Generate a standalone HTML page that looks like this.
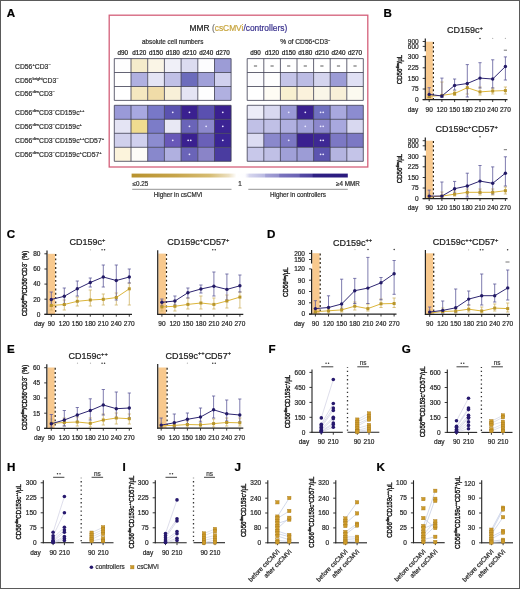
<!DOCTYPE html>
<html><head><meta charset="utf-8"><title>Figure</title>
<style>
html,body{margin:0;padding:0;background:#fff;}
body{width:520px;height:589px;overflow:hidden;}
svg{display:block;font-family:"Liberation Sans", sans-serif;will-change:transform;-webkit-font-smoothing:antialiased;}
</style></head>
<body>
<svg width="520" height="589" viewBox="0 0 520 589">
<rect x="0" y="0" width="520" height="589" fill="#fff"/>
<text x="6.70" y="16.80" font-size="11.6" text-anchor="start" fill="#000" stroke="#000" stroke-width="0.22" font-weight="bold">A</text>
<rect x="109.2" y="15.2" width="258.6" height="151.8" fill="none" stroke="#d4607a" stroke-width="1.3"/>
<text x="189.6" y="30.6" font-size="8.4" fill="#222" stroke="#222" stroke-width="0.22">MMR <tspan fill="#777" stroke="#777">(</tspan><tspan fill="#c8a640" stroke="#c8a640">csCMVi</tspan><tspan fill="#3d3590" stroke="#3d3590">/controllers)</tspan></text>
<text x="172.70" y="43.90" font-size="6.3" text-anchor="middle" fill="#333" stroke="#333" stroke-width="0.22" font-weight="normal">absolute cell numbers</text>
<text x="305.20" y="43.90" font-size="6.65" text-anchor="middle" fill="#333" stroke="#333" stroke-width="0.22"><tspan>% of CD56</tspan><tspan dy="-2.40" font-size="3.99">+</tspan><tspan dy="2.40">CD3</tspan><tspan dy="-2.40" font-size="3.99">−</tspan></text>
<text x="122.65" y="54.80" font-size="6.3" text-anchor="middle" fill="#222" stroke="#222" stroke-width="0.22" font-weight="normal">d90</text>
<text x="139.35" y="54.80" font-size="6.3" text-anchor="middle" fill="#222" stroke="#222" stroke-width="0.22" font-weight="normal">d120</text>
<text x="156.05" y="54.80" font-size="6.3" text-anchor="middle" fill="#222" stroke="#222" stroke-width="0.22" font-weight="normal">d150</text>
<text x="172.75" y="54.80" font-size="6.3" text-anchor="middle" fill="#222" stroke="#222" stroke-width="0.22" font-weight="normal">d180</text>
<text x="189.45" y="54.80" font-size="6.3" text-anchor="middle" fill="#222" stroke="#222" stroke-width="0.22" font-weight="normal">d210</text>
<text x="206.15" y="54.80" font-size="6.3" text-anchor="middle" fill="#222" stroke="#222" stroke-width="0.22" font-weight="normal">d240</text>
<text x="222.80" y="54.80" font-size="6.3" text-anchor="middle" fill="#222" stroke="#222" stroke-width="0.22" font-weight="normal">d270</text>
<text x="255.50" y="54.80" font-size="6.3" text-anchor="middle" fill="#222" stroke="#222" stroke-width="0.22" font-weight="normal">d90</text>
<text x="272.10" y="54.80" font-size="6.3" text-anchor="middle" fill="#222" stroke="#222" stroke-width="0.22" font-weight="normal">d120</text>
<text x="288.70" y="54.80" font-size="6.3" text-anchor="middle" fill="#222" stroke="#222" stroke-width="0.22" font-weight="normal">d150</text>
<text x="305.30" y="54.80" font-size="6.3" text-anchor="middle" fill="#222" stroke="#222" stroke-width="0.22" font-weight="normal">d180</text>
<text x="321.90" y="54.80" font-size="6.3" text-anchor="middle" fill="#222" stroke="#222" stroke-width="0.22" font-weight="normal">d210</text>
<text x="338.50" y="54.80" font-size="6.3" text-anchor="middle" fill="#222" stroke="#222" stroke-width="0.22" font-weight="normal">d240</text>
<text x="355.05" y="54.80" font-size="6.3" text-anchor="middle" fill="#222" stroke="#222" stroke-width="0.22" font-weight="normal">d270</text>
<rect x="114.30" y="58.60" width="16.70" height="13.90" fill="#fefefe" stroke="none" stroke-width="0"/>
<rect x="131.00" y="58.60" width="16.70" height="13.90" fill="#f5eccb" stroke="none" stroke-width="0"/>
<rect x="147.70" y="58.60" width="16.70" height="13.90" fill="#faf5e6" stroke="none" stroke-width="0"/>
<rect x="164.40" y="58.60" width="16.70" height="13.90" fill="#f0f0f8" stroke="none" stroke-width="0"/>
<rect x="181.10" y="58.60" width="16.70" height="13.90" fill="#dcdcf0" stroke="none" stroke-width="0"/>
<rect x="197.80" y="58.60" width="16.70" height="13.90" fill="#fcfcfe" stroke="none" stroke-width="0"/>
<rect x="214.50" y="58.60" width="16.60" height="13.90" fill="#9c9cd6" stroke="none" stroke-width="0"/>
<rect x="114.30" y="72.50" width="16.70" height="14.00" fill="#ffffff" stroke="none" stroke-width="0"/>
<rect x="131.00" y="72.50" width="16.70" height="14.00" fill="#b0b0e0" stroke="none" stroke-width="0"/>
<rect x="147.70" y="72.50" width="16.70" height="14.00" fill="#e4e4f4" stroke="none" stroke-width="0"/>
<rect x="164.40" y="72.50" width="16.70" height="14.00" fill="#c0c0e6" stroke="none" stroke-width="0"/>
<rect x="181.10" y="72.50" width="16.70" height="14.00" fill="#6c6cbc" stroke="none" stroke-width="0"/>
<rect x="197.80" y="72.50" width="16.70" height="14.00" fill="#a0a0d8" stroke="none" stroke-width="0"/>
<rect x="214.50" y="72.50" width="16.60" height="14.00" fill="#d0d0ee" stroke="none" stroke-width="0"/>
<rect x="114.30" y="86.50" width="16.70" height="13.90" fill="#ffffff" stroke="none" stroke-width="0"/>
<rect x="131.00" y="86.50" width="16.70" height="13.90" fill="#f5e8c0" stroke="none" stroke-width="0"/>
<rect x="147.70" y="86.50" width="16.70" height="13.90" fill="#f0dca8" stroke="none" stroke-width="0"/>
<rect x="164.40" y="86.50" width="16.70" height="13.90" fill="#f8f0d8" stroke="none" stroke-width="0"/>
<rect x="181.10" y="86.50" width="16.70" height="13.90" fill="#e4e4f4" stroke="none" stroke-width="0"/>
<rect x="197.80" y="86.50" width="16.70" height="13.90" fill="#fefefe" stroke="none" stroke-width="0"/>
<rect x="214.50" y="86.50" width="16.60" height="13.90" fill="#b0b0e0" stroke="none" stroke-width="0"/>
<line x1="114.30" y1="58.60" x2="114.30" y2="100.40" stroke="#3c3c50" stroke-width="0.8"/>
<line x1="131.00" y1="58.60" x2="131.00" y2="100.40" stroke="#3c3c50" stroke-width="0.8"/>
<line x1="147.70" y1="58.60" x2="147.70" y2="100.40" stroke="#3c3c50" stroke-width="0.8"/>
<line x1="164.40" y1="58.60" x2="164.40" y2="100.40" stroke="#3c3c50" stroke-width="0.8"/>
<line x1="181.10" y1="58.60" x2="181.10" y2="100.40" stroke="#3c3c50" stroke-width="0.8"/>
<line x1="197.80" y1="58.60" x2="197.80" y2="100.40" stroke="#3c3c50" stroke-width="0.8"/>
<line x1="214.50" y1="58.60" x2="214.50" y2="100.40" stroke="#3c3c50" stroke-width="0.8"/>
<line x1="231.10" y1="58.60" x2="231.10" y2="100.40" stroke="#3c3c50" stroke-width="0.8"/>
<line x1="114.30" y1="58.60" x2="231.10" y2="58.60" stroke="#3c3c50" stroke-width="0.8"/>
<line x1="114.30" y1="72.50" x2="231.10" y2="72.50" stroke="#3c3c50" stroke-width="0.8"/>
<line x1="114.30" y1="86.50" x2="231.10" y2="86.50" stroke="#3c3c50" stroke-width="0.8"/>
<line x1="114.30" y1="100.40" x2="231.10" y2="100.40" stroke="#3c3c50" stroke-width="0.8"/>
<rect x="114.30" y="105.30" width="16.70" height="14.00" fill="#9a9ad8" stroke="none" stroke-width="0"/>
<rect x="131.00" y="105.30" width="16.70" height="14.00" fill="#a8a8e0" stroke="none" stroke-width="0"/>
<rect x="147.70" y="105.30" width="16.70" height="14.00" fill="#7878c8" stroke="none" stroke-width="0"/>
<rect x="164.40" y="105.30" width="16.70" height="14.00" fill="#5a52b0" stroke="none" stroke-width="0"/>
<circle cx="172.75" cy="112.30" r="0.9" fill="#e8e6ff"/>
<rect x="181.10" y="105.30" width="16.70" height="14.00" fill="#3a2090" stroke="none" stroke-width="0"/>
<circle cx="189.45" cy="112.30" r="0.9" fill="#e8e6ff"/>
<rect x="197.80" y="105.30" width="16.70" height="14.00" fill="#5a50b0" stroke="none" stroke-width="0"/>
<rect x="214.50" y="105.30" width="16.60" height="14.00" fill="#3a2090" stroke="none" stroke-width="0"/>
<circle cx="222.80" cy="112.30" r="0.9" fill="#e8e6ff"/>
<rect x="114.30" y="119.30" width="16.70" height="14.00" fill="#e4e4f4" stroke="none" stroke-width="0"/>
<rect x="131.00" y="119.30" width="16.70" height="14.00" fill="#f0dc90" stroke="none" stroke-width="0"/>
<rect x="147.70" y="119.30" width="16.70" height="14.00" fill="#7c7cc8" stroke="none" stroke-width="0"/>
<rect x="164.40" y="119.30" width="16.70" height="14.00" fill="#e8e8f4" stroke="none" stroke-width="0"/>
<rect x="181.10" y="119.30" width="16.70" height="14.00" fill="#6a64b8" stroke="none" stroke-width="0"/>
<circle cx="189.45" cy="126.30" r="0.9" fill="#e8e6ff"/>
<rect x="197.80" y="119.30" width="16.70" height="14.00" fill="#8c88cc" stroke="none" stroke-width="0"/>
<circle cx="206.15" cy="126.30" r="0.9" fill="#e8e6ff"/>
<rect x="214.50" y="119.30" width="16.60" height="14.00" fill="#3c2494" stroke="none" stroke-width="0"/>
<circle cx="222.80" cy="126.30" r="0.9" fill="#e8e6ff"/>
<rect x="114.30" y="133.30" width="16.70" height="14.00" fill="#d0d0ec" stroke="none" stroke-width="0"/>
<rect x="131.00" y="133.30" width="16.70" height="14.00" fill="#d0d0ee" stroke="none" stroke-width="0"/>
<rect x="147.70" y="133.30" width="16.70" height="14.00" fill="#8c8cd0" stroke="none" stroke-width="0"/>
<rect x="164.40" y="133.30" width="16.70" height="14.00" fill="#6858b8" stroke="none" stroke-width="0"/>
<circle cx="172.75" cy="140.30" r="0.9" fill="#e8e6ff"/>
<rect x="181.10" y="133.30" width="16.70" height="14.00" fill="#3a2090" stroke="none" stroke-width="0"/>
<circle cx="188.15" cy="140.30" r="0.9" fill="#e8e6ff"/>
<circle cx="190.75" cy="140.30" r="0.9" fill="#e8e6ff"/>
<rect x="197.80" y="133.30" width="16.70" height="14.00" fill="#6a60b8" stroke="none" stroke-width="0"/>
<rect x="214.50" y="133.30" width="16.60" height="14.00" fill="#3a2494" stroke="none" stroke-width="0"/>
<circle cx="222.80" cy="140.30" r="0.9" fill="#e8e6ff"/>
<rect x="114.30" y="147.30" width="16.70" height="14.00" fill="#fcf4dc" stroke="none" stroke-width="0"/>
<rect x="131.00" y="147.30" width="16.70" height="14.00" fill="#fdfcf8" stroke="none" stroke-width="0"/>
<rect x="147.70" y="147.30" width="16.70" height="14.00" fill="#8888cc" stroke="none" stroke-width="0"/>
<rect x="164.40" y="147.30" width="16.70" height="14.00" fill="#b0b0e0" stroke="none" stroke-width="0"/>
<rect x="181.10" y="147.30" width="16.70" height="14.00" fill="#6a64b8" stroke="none" stroke-width="0"/>
<circle cx="189.45" cy="154.30" r="0.9" fill="#e8e6ff"/>
<rect x="197.80" y="147.30" width="16.70" height="14.00" fill="#8a84c8" stroke="none" stroke-width="0"/>
<rect x="214.50" y="147.30" width="16.60" height="14.00" fill="#4a3ca0" stroke="none" stroke-width="0"/>
<line x1="114.30" y1="105.30" x2="114.30" y2="161.30" stroke="#3c3c50" stroke-width="0.8"/>
<line x1="131.00" y1="105.30" x2="131.00" y2="161.30" stroke="#3c3c50" stroke-width="0.8"/>
<line x1="147.70" y1="105.30" x2="147.70" y2="161.30" stroke="#3c3c50" stroke-width="0.8"/>
<line x1="164.40" y1="105.30" x2="164.40" y2="161.30" stroke="#3c3c50" stroke-width="0.8"/>
<line x1="181.10" y1="105.30" x2="181.10" y2="161.30" stroke="#3c3c50" stroke-width="0.8"/>
<line x1="197.80" y1="105.30" x2="197.80" y2="161.30" stroke="#3c3c50" stroke-width="0.8"/>
<line x1="214.50" y1="105.30" x2="214.50" y2="161.30" stroke="#3c3c50" stroke-width="0.8"/>
<line x1="231.10" y1="105.30" x2="231.10" y2="161.30" stroke="#3c3c50" stroke-width="0.8"/>
<line x1="114.30" y1="105.30" x2="231.10" y2="105.30" stroke="#3c3c50" stroke-width="0.8"/>
<line x1="114.30" y1="119.30" x2="231.10" y2="119.30" stroke="#3c3c50" stroke-width="0.8"/>
<line x1="114.30" y1="133.30" x2="231.10" y2="133.30" stroke="#3c3c50" stroke-width="0.8"/>
<line x1="114.30" y1="147.30" x2="231.10" y2="147.30" stroke="#3c3c50" stroke-width="0.8"/>
<line x1="114.30" y1="161.30" x2="231.10" y2="161.30" stroke="#3c3c50" stroke-width="0.8"/>
<rect x="247.20" y="58.60" width="16.60" height="13.90" fill="#ffffff" stroke="none" stroke-width="0"/>
<rect x="263.80" y="58.60" width="16.60" height="13.90" fill="#ffffff" stroke="none" stroke-width="0"/>
<rect x="280.40" y="58.60" width="16.60" height="13.90" fill="#ffffff" stroke="none" stroke-width="0"/>
<rect x="297.00" y="58.60" width="16.60" height="13.90" fill="#ffffff" stroke="none" stroke-width="0"/>
<rect x="313.60" y="58.60" width="16.60" height="13.90" fill="#ffffff" stroke="none" stroke-width="0"/>
<rect x="330.20" y="58.60" width="16.60" height="13.90" fill="#ffffff" stroke="none" stroke-width="0"/>
<rect x="346.80" y="58.60" width="16.50" height="13.90" fill="#ffffff" stroke="none" stroke-width="0"/>
<rect x="247.20" y="72.50" width="16.60" height="14.00" fill="#fcfcfe" stroke="none" stroke-width="0"/>
<rect x="263.80" y="72.50" width="16.60" height="14.00" fill="#fefefe" stroke="none" stroke-width="0"/>
<rect x="280.40" y="72.50" width="16.60" height="14.00" fill="#c4c4e8" stroke="none" stroke-width="0"/>
<rect x="297.00" y="72.50" width="16.60" height="14.00" fill="#bcbce4" stroke="none" stroke-width="0"/>
<rect x="313.60" y="72.50" width="16.60" height="14.00" fill="#d4d4ee" stroke="none" stroke-width="0"/>
<rect x="330.20" y="72.50" width="16.60" height="14.00" fill="#9c9cd6" stroke="none" stroke-width="0"/>
<rect x="346.80" y="72.50" width="16.50" height="14.00" fill="#e0e0f4" stroke="none" stroke-width="0"/>
<rect x="247.20" y="86.50" width="16.60" height="13.90" fill="#ffffff" stroke="none" stroke-width="0"/>
<rect x="263.80" y="86.50" width="16.60" height="13.90" fill="#fefcf4" stroke="none" stroke-width="0"/>
<rect x="280.40" y="86.50" width="16.60" height="13.90" fill="#f8f0d0" stroke="none" stroke-width="0"/>
<rect x="297.00" y="86.50" width="16.60" height="13.90" fill="#fbf2dc" stroke="none" stroke-width="0"/>
<rect x="313.60" y="86.50" width="16.60" height="13.90" fill="#faf6e8" stroke="none" stroke-width="0"/>
<rect x="330.20" y="86.50" width="16.60" height="13.90" fill="#f8f0d8" stroke="none" stroke-width="0"/>
<rect x="346.80" y="86.50" width="16.50" height="13.90" fill="#fcfaf0" stroke="none" stroke-width="0"/>
<line x1="247.20" y1="58.60" x2="247.20" y2="100.40" stroke="#3c3c50" stroke-width="0.8"/>
<line x1="263.80" y1="58.60" x2="263.80" y2="100.40" stroke="#3c3c50" stroke-width="0.8"/>
<line x1="280.40" y1="58.60" x2="280.40" y2="100.40" stroke="#3c3c50" stroke-width="0.8"/>
<line x1="297.00" y1="58.60" x2="297.00" y2="100.40" stroke="#3c3c50" stroke-width="0.8"/>
<line x1="313.60" y1="58.60" x2="313.60" y2="100.40" stroke="#3c3c50" stroke-width="0.8"/>
<line x1="330.20" y1="58.60" x2="330.20" y2="100.40" stroke="#3c3c50" stroke-width="0.8"/>
<line x1="346.80" y1="58.60" x2="346.80" y2="100.40" stroke="#3c3c50" stroke-width="0.8"/>
<line x1="363.30" y1="58.60" x2="363.30" y2="100.40" stroke="#3c3c50" stroke-width="0.8"/>
<line x1="247.20" y1="58.60" x2="363.30" y2="58.60" stroke="#3c3c50" stroke-width="0.8"/>
<line x1="247.20" y1="72.50" x2="363.30" y2="72.50" stroke="#3c3c50" stroke-width="0.8"/>
<line x1="247.20" y1="86.50" x2="363.30" y2="86.50" stroke="#3c3c50" stroke-width="0.8"/>
<line x1="247.20" y1="100.40" x2="363.30" y2="100.40" stroke="#3c3c50" stroke-width="0.8"/>
<line x1="253.90" y1="66.00" x2="257.10" y2="66.00" stroke="#333" stroke-width="0.8"/>
<line x1="270.50" y1="66.00" x2="273.70" y2="66.00" stroke="#333" stroke-width="0.8"/>
<line x1="287.10" y1="66.00" x2="290.30" y2="66.00" stroke="#333" stroke-width="0.8"/>
<line x1="303.70" y1="66.00" x2="306.90" y2="66.00" stroke="#333" stroke-width="0.8"/>
<line x1="320.30" y1="66.00" x2="323.50" y2="66.00" stroke="#333" stroke-width="0.8"/>
<line x1="336.90" y1="66.00" x2="340.10" y2="66.00" stroke="#333" stroke-width="0.8"/>
<line x1="353.45" y1="66.00" x2="356.65" y2="66.00" stroke="#333" stroke-width="0.8"/>
<rect x="247.20" y="105.30" width="16.60" height="14.00" fill="#ececf8" stroke="none" stroke-width="0"/>
<rect x="263.80" y="105.30" width="16.60" height="14.00" fill="#d8d8f0" stroke="none" stroke-width="0"/>
<rect x="280.40" y="105.30" width="16.60" height="14.00" fill="#9a9ad6" stroke="none" stroke-width="0"/>
<circle cx="288.70" cy="112.30" r="0.9" fill="#e8e6ff"/>
<rect x="297.00" y="105.30" width="16.60" height="14.00" fill="#3a2090" stroke="none" stroke-width="0"/>
<circle cx="305.30" cy="112.30" r="0.9" fill="#e8e6ff"/>
<rect x="313.60" y="105.30" width="16.60" height="14.00" fill="#7070c0" stroke="none" stroke-width="0"/>
<circle cx="320.60" cy="112.30" r="0.9" fill="#e8e6ff"/>
<circle cx="323.20" cy="112.30" r="0.9" fill="#e8e6ff"/>
<rect x="330.20" y="105.30" width="16.60" height="14.00" fill="#a8a8de" stroke="none" stroke-width="0"/>
<rect x="346.80" y="105.30" width="16.50" height="14.00" fill="#8c8cd0" stroke="none" stroke-width="0"/>
<rect x="247.20" y="119.30" width="16.60" height="14.00" fill="#c0c0e6" stroke="none" stroke-width="0"/>
<rect x="263.80" y="119.30" width="16.60" height="14.00" fill="#c0c0e6" stroke="none" stroke-width="0"/>
<rect x="280.40" y="119.30" width="16.60" height="14.00" fill="#b0b0e0" stroke="none" stroke-width="0"/>
<rect x="297.00" y="119.30" width="16.60" height="14.00" fill="#a0a0d8" stroke="none" stroke-width="0"/>
<circle cx="305.30" cy="126.30" r="0.9" fill="#e8e6ff"/>
<rect x="313.60" y="119.30" width="16.60" height="14.00" fill="#8c88cc" stroke="none" stroke-width="0"/>
<circle cx="320.60" cy="126.30" r="0.9" fill="#e8e6ff"/>
<circle cx="323.20" cy="126.30" r="0.9" fill="#e8e6ff"/>
<rect x="330.20" y="119.30" width="16.60" height="14.00" fill="#a8a8de" stroke="none" stroke-width="0"/>
<rect x="346.80" y="119.30" width="16.50" height="14.00" fill="#d8d8f0" stroke="none" stroke-width="0"/>
<rect x="247.20" y="133.30" width="16.60" height="14.00" fill="#dcdcf2" stroke="none" stroke-width="0"/>
<rect x="263.80" y="133.30" width="16.60" height="14.00" fill="#8a88cc" stroke="none" stroke-width="0"/>
<rect x="280.40" y="133.30" width="16.60" height="14.00" fill="#7c78c4" stroke="none" stroke-width="0"/>
<circle cx="288.70" cy="140.30" r="0.9" fill="#e8e6ff"/>
<rect x="297.00" y="133.30" width="16.60" height="14.00" fill="#3a2090" stroke="none" stroke-width="0"/>
<rect x="313.60" y="133.30" width="16.60" height="14.00" fill="#3e2894" stroke="none" stroke-width="0"/>
<circle cx="320.60" cy="140.30" r="0.9" fill="#e8e6ff"/>
<circle cx="323.20" cy="140.30" r="0.9" fill="#e8e6ff"/>
<rect x="330.20" y="133.30" width="16.60" height="14.00" fill="#7c78c4" stroke="none" stroke-width="0"/>
<rect x="346.80" y="133.30" width="16.50" height="14.00" fill="#7c78c4" stroke="none" stroke-width="0"/>
<rect x="247.20" y="147.30" width="16.60" height="14.00" fill="#c8c8ea" stroke="none" stroke-width="0"/>
<rect x="263.80" y="147.30" width="16.60" height="14.00" fill="#c0c0e6" stroke="none" stroke-width="0"/>
<rect x="280.40" y="147.30" width="16.60" height="14.00" fill="#a0a0d8" stroke="none" stroke-width="0"/>
<rect x="297.00" y="147.30" width="16.60" height="14.00" fill="#9c9cd6" stroke="none" stroke-width="0"/>
<rect x="313.60" y="147.30" width="16.60" height="14.00" fill="#5c54b0" stroke="none" stroke-width="0"/>
<circle cx="320.60" cy="154.30" r="0.9" fill="#e8e6ff"/>
<circle cx="323.20" cy="154.30" r="0.9" fill="#e8e6ff"/>
<rect x="330.20" y="147.30" width="16.60" height="14.00" fill="#b4b4e0" stroke="none" stroke-width="0"/>
<rect x="346.80" y="147.30" width="16.50" height="14.00" fill="#c4c4e8" stroke="none" stroke-width="0"/>
<line x1="247.20" y1="105.30" x2="247.20" y2="161.30" stroke="#3c3c50" stroke-width="0.8"/>
<line x1="263.80" y1="105.30" x2="263.80" y2="161.30" stroke="#3c3c50" stroke-width="0.8"/>
<line x1="280.40" y1="105.30" x2="280.40" y2="161.30" stroke="#3c3c50" stroke-width="0.8"/>
<line x1="297.00" y1="105.30" x2="297.00" y2="161.30" stroke="#3c3c50" stroke-width="0.8"/>
<line x1="313.60" y1="105.30" x2="313.60" y2="161.30" stroke="#3c3c50" stroke-width="0.8"/>
<line x1="330.20" y1="105.30" x2="330.20" y2="161.30" stroke="#3c3c50" stroke-width="0.8"/>
<line x1="346.80" y1="105.30" x2="346.80" y2="161.30" stroke="#3c3c50" stroke-width="0.8"/>
<line x1="363.30" y1="105.30" x2="363.30" y2="161.30" stroke="#3c3c50" stroke-width="0.8"/>
<line x1="247.20" y1="105.30" x2="363.30" y2="105.30" stroke="#3c3c50" stroke-width="0.8"/>
<line x1="247.20" y1="119.30" x2="363.30" y2="119.30" stroke="#3c3c50" stroke-width="0.8"/>
<line x1="247.20" y1="133.30" x2="363.30" y2="133.30" stroke="#3c3c50" stroke-width="0.8"/>
<line x1="247.20" y1="147.30" x2="363.30" y2="147.30" stroke="#3c3c50" stroke-width="0.8"/>
<line x1="247.20" y1="161.30" x2="363.30" y2="161.30" stroke="#3c3c50" stroke-width="0.8"/>
<text x="15.00" y="68.60" font-size="6.8" text-anchor="start" fill="#333" stroke="#333" stroke-width="0.22"><tspan>CD56</tspan><tspan dy="-3.00" font-size="4.08">+</tspan><tspan dy="3.00">CD3</tspan><tspan dy="-3.00" font-size="4.08">−</tspan></text>
<text x="15.00" y="82.50" font-size="6.8" text-anchor="start" fill="#333" stroke="#333" stroke-width="0.22"><tspan>CD56</tspan><tspan dy="-3.00" font-size="4.08">bright</tspan><tspan dy="3.00">CD3</tspan><tspan dy="-3.00" font-size="4.08">−</tspan></text>
<text x="15.00" y="96.40" font-size="6.8" text-anchor="start" fill="#333" stroke="#333" stroke-width="0.22"><tspan>CD56</tspan><tspan dy="-3.00" font-size="4.08">dim</tspan><tspan dy="3.00">CD3</tspan><tspan dy="-3.00" font-size="4.08">−</tspan></text>
<text x="15.00" y="115.30" font-size="6.8" text-anchor="start" fill="#333" stroke="#333" stroke-width="0.22"><tspan>CD56</tspan><tspan dy="-3.00" font-size="4.08">dim</tspan><tspan dy="3.00">CD3</tspan><tspan dy="-3.00" font-size="4.08">−</tspan><tspan dy="3.00">CD159c</tspan><tspan dy="-3.00" font-size="4.08">++</tspan></text>
<text x="15.00" y="129.00" font-size="6.8" text-anchor="start" fill="#333" stroke="#333" stroke-width="0.22"><tspan>CD56</tspan><tspan dy="-3.00" font-size="4.08">dim</tspan><tspan dy="3.00">CD3</tspan><tspan dy="-3.00" font-size="4.08">−</tspan><tspan dy="3.00">CD159c</tspan><tspan dy="-3.00" font-size="4.08">+</tspan></text>
<text x="15.00" y="142.90" font-size="6.8" text-anchor="start" fill="#333" stroke="#333" stroke-width="0.22"><tspan>CD56</tspan><tspan dy="-3.00" font-size="4.08">dim</tspan><tspan dy="3.00">CD3</tspan><tspan dy="-3.00" font-size="4.08">−</tspan><tspan dy="3.00">CD159c</tspan><tspan dy="-3.00" font-size="4.08">++</tspan><tspan dy="3.00">CD57</tspan><tspan dy="-3.00" font-size="4.08">+</tspan></text>
<text x="15.00" y="156.80" font-size="6.8" text-anchor="start" fill="#333" stroke="#333" stroke-width="0.22"><tspan>CD56</tspan><tspan dy="-3.00" font-size="4.08">dim</tspan><tspan dy="3.00">CD3</tspan><tspan dy="-3.00" font-size="4.08">−</tspan><tspan dy="3.00">CD159c</tspan><tspan dy="-3.00" font-size="4.08">+</tspan><tspan dy="3.00">CD57</tspan><tspan dy="-3.00" font-size="4.08">+</tspan></text>
<defs><linearGradient id="cb" x1="0" x2="1" y1="0" y2="0"><stop offset="0" stop-color="#b8922e"/><stop offset="0.2" stop-color="#c6a44a"/><stop offset="0.36" stop-color="#d6bc72"/><stop offset="0.45" stop-color="#ece0c2"/><stop offset="0.485" stop-color="#ffffff"/><stop offset="0.525" stop-color="#fdfdff"/><stop offset="0.545" stop-color="#d6d6ee"/><stop offset="0.615" stop-color="#babae2"/><stop offset="0.62" stop-color="#a4a2d6"/><stop offset="0.68" stop-color="#9490cc"/><stop offset="0.685" stop-color="#7a74be"/><stop offset="0.775" stop-color="#6a62b4"/><stop offset="0.78" stop-color="#544aa4"/><stop offset="0.835" stop-color="#4a3e9c"/><stop offset="0.84" stop-color="#2e2084"/><stop offset="1" stop-color="#2a1a7e"/></linearGradient></defs>
<rect x="131.60" y="173.60" width="216.20" height="3.90" fill="url(#cb)" stroke="none" stroke-width="0"/>
<text x="132.60" y="186.00" font-size="6.3" text-anchor="start" fill="#333" stroke="#333" stroke-width="0.22" font-weight="normal">≤0.25</text>
<text x="240.00" y="186.00" font-size="6.3" text-anchor="middle" fill="#333" stroke="#333" stroke-width="0.22" font-weight="normal">1</text>
<text x="359.80" y="186.00" font-size="6.3" text-anchor="end" fill="#333" stroke="#333" stroke-width="0.22" font-weight="normal">≥4 MMR</text>
<line x1="132.20" y1="189.30" x2="231.50" y2="189.30" stroke="#777" stroke-width="0.8"/>
<line x1="248.30" y1="189.30" x2="347.80" y2="189.30" stroke="#777" stroke-width="0.8"/>
<text x="178.00" y="197.20" font-size="6.3" text-anchor="middle" fill="#333" stroke="#333" stroke-width="0.22" font-weight="normal">Higher in csCMVi</text>
<text x="298.00" y="197.20" font-size="6.3" text-anchor="middle" fill="#333" stroke="#333" stroke-width="0.22" font-weight="normal">Higher in controllers</text>
<text x="383.60" y="16.80" font-size="11.6" text-anchor="start" fill="#000" stroke="#000" stroke-width="0.22" font-weight="bold">B</text>
<rect x="425.90" y="41.70" width="6.90" height="57.90" fill="#f8c98e" stroke="none" stroke-width="0"/>
<line x1="433.40" y1="42.00" x2="433.40" y2="99.60" stroke="#2a2010" stroke-width="1.2" stroke-dasharray="1.9 2.4"/>
<line x1="429.20" y1="98.00" x2="429.20" y2="92.00" stroke="#cfb466" stroke-width="0.8"/>
<line x1="427.60" y1="92.00" x2="430.80" y2="92.00" stroke="#cfb466" stroke-width="0.8"/>
<line x1="427.60" y1="98.00" x2="430.80" y2="98.00" stroke="#cfb466" stroke-width="0.8"/>
<line x1="441.90" y1="97.00" x2="441.90" y2="82.00" stroke="#cfb466" stroke-width="0.8"/>
<line x1="440.30" y1="82.00" x2="443.50" y2="82.00" stroke="#cfb466" stroke-width="0.8"/>
<line x1="440.30" y1="97.00" x2="443.50" y2="97.00" stroke="#cfb466" stroke-width="0.8"/>
<line x1="454.60" y1="95.50" x2="454.60" y2="91.00" stroke="#cfb466" stroke-width="0.8"/>
<line x1="453.00" y1="91.00" x2="456.20" y2="91.00" stroke="#cfb466" stroke-width="0.8"/>
<line x1="453.00" y1="95.50" x2="456.20" y2="95.50" stroke="#cfb466" stroke-width="0.8"/>
<line x1="467.30" y1="94.00" x2="467.30" y2="84.00" stroke="#cfb466" stroke-width="0.8"/>
<line x1="465.70" y1="84.00" x2="468.90" y2="84.00" stroke="#cfb466" stroke-width="0.8"/>
<line x1="465.70" y1="94.00" x2="468.90" y2="94.00" stroke="#cfb466" stroke-width="0.8"/>
<line x1="480.00" y1="95.00" x2="480.00" y2="87.00" stroke="#cfb466" stroke-width="0.8"/>
<line x1="478.40" y1="87.00" x2="481.60" y2="87.00" stroke="#cfb466" stroke-width="0.8"/>
<line x1="478.40" y1="95.00" x2="481.60" y2="95.00" stroke="#cfb466" stroke-width="0.8"/>
<line x1="492.70" y1="94.00" x2="492.70" y2="88.00" stroke="#cfb466" stroke-width="0.8"/>
<line x1="491.10" y1="88.00" x2="494.30" y2="88.00" stroke="#cfb466" stroke-width="0.8"/>
<line x1="491.10" y1="94.00" x2="494.30" y2="94.00" stroke="#cfb466" stroke-width="0.8"/>
<line x1="505.40" y1="94.00" x2="505.40" y2="87.00" stroke="#cfb466" stroke-width="0.8"/>
<line x1="503.80" y1="87.00" x2="507.00" y2="87.00" stroke="#cfb466" stroke-width="0.8"/>
<line x1="503.80" y1="94.00" x2="507.00" y2="94.00" stroke="#cfb466" stroke-width="0.8"/>
<line x1="429.20" y1="97.50" x2="429.20" y2="87.70" stroke="#5e5a9a" stroke-width="0.8"/>
<line x1="427.60" y1="87.70" x2="430.80" y2="87.70" stroke="#5e5a9a" stroke-width="0.8"/>
<line x1="427.60" y1="97.50" x2="430.80" y2="97.50" stroke="#5e5a9a" stroke-width="0.8"/>
<line x1="441.90" y1="97.50" x2="441.90" y2="78.10" stroke="#5e5a9a" stroke-width="0.8"/>
<line x1="440.30" y1="78.10" x2="443.50" y2="78.10" stroke="#5e5a9a" stroke-width="0.8"/>
<line x1="440.30" y1="97.50" x2="443.50" y2="97.50" stroke="#5e5a9a" stroke-width="0.8"/>
<line x1="454.60" y1="90.00" x2="454.60" y2="79.00" stroke="#5e5a9a" stroke-width="0.8"/>
<line x1="453.00" y1="79.00" x2="456.20" y2="79.00" stroke="#5e5a9a" stroke-width="0.8"/>
<line x1="453.00" y1="90.00" x2="456.20" y2="90.00" stroke="#5e5a9a" stroke-width="0.8"/>
<line x1="467.30" y1="97.00" x2="467.30" y2="64.60" stroke="#5e5a9a" stroke-width="0.8"/>
<line x1="465.70" y1="64.60" x2="468.90" y2="64.60" stroke="#5e5a9a" stroke-width="0.8"/>
<line x1="465.70" y1="97.00" x2="468.90" y2="97.00" stroke="#5e5a9a" stroke-width="0.8"/>
<line x1="480.00" y1="88.00" x2="480.00" y2="62.70" stroke="#5e5a9a" stroke-width="0.8"/>
<line x1="478.40" y1="62.70" x2="481.60" y2="62.70" stroke="#5e5a9a" stroke-width="0.8"/>
<line x1="478.40" y1="88.00" x2="481.60" y2="88.00" stroke="#5e5a9a" stroke-width="0.8"/>
<line x1="492.70" y1="88.00" x2="492.70" y2="59.80" stroke="#5e5a9a" stroke-width="0.8"/>
<line x1="491.10" y1="59.80" x2="494.30" y2="59.80" stroke="#5e5a9a" stroke-width="0.8"/>
<line x1="491.10" y1="88.00" x2="494.30" y2="88.00" stroke="#5e5a9a" stroke-width="0.8"/>
<line x1="505.40" y1="80.00" x2="505.40" y2="56.90" stroke="#5e5a9a" stroke-width="0.8"/>
<line x1="503.80" y1="56.90" x2="507.00" y2="56.90" stroke="#5e5a9a" stroke-width="0.8"/>
<line x1="503.80" y1="80.00" x2="507.00" y2="80.00" stroke="#5e5a9a" stroke-width="0.8"/>
<polyline fill="none" stroke="#dcb53a" stroke-width="1" points="429.20,96.30 441.90,95.40 454.60,93.50 467.30,87.70 480.00,91.90 492.70,91.00 505.40,90.60"/>
<rect x="427.70" y="94.80" width="3.00" height="3.00" fill="#b8962c" stroke="none" stroke-width="0"/>
<rect x="440.40" y="93.90" width="3.00" height="3.00" fill="#b8962c" stroke="none" stroke-width="0"/>
<rect x="453.10" y="92.00" width="3.00" height="3.00" fill="#b8962c" stroke="none" stroke-width="0"/>
<rect x="465.80" y="86.20" width="3.00" height="3.00" fill="#b8962c" stroke="none" stroke-width="0"/>
<rect x="478.50" y="90.40" width="3.00" height="3.00" fill="#b8962c" stroke="none" stroke-width="0"/>
<rect x="491.20" y="89.50" width="3.00" height="3.00" fill="#b8962c" stroke="none" stroke-width="0"/>
<rect x="503.90" y="89.10" width="3.00" height="3.00" fill="#b8962c" stroke="none" stroke-width="0"/>
<polyline fill="none" stroke="#2e2672" stroke-width="1" points="429.20,94.40 441.90,96.00 454.60,85.40 467.30,83.50 480.00,78.10 492.70,79.00 505.40,66.50"/>
<circle cx="429.20" cy="94.40" r="1.7" fill="#231a66"/>
<circle cx="441.90" cy="96.00" r="1.7" fill="#231a66"/>
<circle cx="454.60" cy="85.40" r="1.7" fill="#231a66"/>
<circle cx="467.30" cy="83.50" r="1.7" fill="#231a66"/>
<circle cx="480.00" cy="78.10" r="1.7" fill="#231a66"/>
<circle cx="492.70" cy="79.00" r="1.7" fill="#231a66"/>
<circle cx="505.40" cy="66.50" r="1.7" fill="#231a66"/>
<line x1="425.30" y1="99.60" x2="425.30" y2="55.80" stroke="#222" stroke-width="1.2"/>
<line x1="425.30" y1="51.20" x2="425.30" y2="38.50" stroke="#222" stroke-width="1.2"/>
<line x1="422.70" y1="99.60" x2="507.50" y2="99.60" stroke="#222" stroke-width="1.2"/>
<line x1="422.70" y1="99.60" x2="425.30" y2="99.60" stroke="#222" stroke-width="0.9"/>
<text x="418.70" y="101.90" font-size="6.5" text-anchor="end" fill="#2a2a2a" stroke="#2a2a2a" stroke-width="0.22" font-weight="normal">0</text>
<line x1="422.70" y1="89.00" x2="425.30" y2="89.00" stroke="#222" stroke-width="0.9"/>
<text x="418.70" y="91.30" font-size="6.5" text-anchor="end" fill="#2a2a2a" stroke="#2a2a2a" stroke-width="0.22" font-weight="normal">75</text>
<line x1="422.70" y1="78.40" x2="425.30" y2="78.40" stroke="#222" stroke-width="0.9"/>
<text x="418.70" y="80.70" font-size="6.5" text-anchor="end" fill="#2a2a2a" stroke="#2a2a2a" stroke-width="0.22" font-weight="normal">150</text>
<line x1="422.70" y1="67.80" x2="425.30" y2="67.80" stroke="#222" stroke-width="0.9"/>
<text x="418.70" y="70.10" font-size="6.5" text-anchor="end" fill="#2a2a2a" stroke="#2a2a2a" stroke-width="0.22" font-weight="normal">225</text>
<line x1="422.70" y1="56.60" x2="425.30" y2="56.60" stroke="#222" stroke-width="0.9"/>
<text x="418.70" y="58.90" font-size="6.5" text-anchor="end" fill="#2a2a2a" stroke="#2a2a2a" stroke-width="0.22" font-weight="normal">300</text>
<line x1="422.70" y1="46.40" x2="425.30" y2="46.40" stroke="#222" stroke-width="0.9"/>
<text x="418.70" y="48.70" font-size="6.5" text-anchor="end" fill="#2a2a2a" stroke="#2a2a2a" stroke-width="0.22" font-weight="normal">600</text>
<line x1="422.70" y1="41.50" x2="425.30" y2="41.50" stroke="#222" stroke-width="0.9"/>
<text x="418.70" y="43.80" font-size="6.5" text-anchor="end" fill="#2a2a2a" stroke="#2a2a2a" stroke-width="0.22" font-weight="normal">900</text>
<line x1="429.20" y1="99.60" x2="429.20" y2="102.00" stroke="#222" stroke-width="0.9"/>
<line x1="441.90" y1="99.60" x2="441.90" y2="102.00" stroke="#222" stroke-width="0.9"/>
<line x1="454.60" y1="99.60" x2="454.60" y2="102.00" stroke="#222" stroke-width="0.9"/>
<line x1="467.30" y1="99.60" x2="467.30" y2="102.00" stroke="#222" stroke-width="0.9"/>
<line x1="480.00" y1="99.60" x2="480.00" y2="102.00" stroke="#222" stroke-width="0.9"/>
<line x1="492.70" y1="99.60" x2="492.70" y2="102.00" stroke="#222" stroke-width="0.9"/>
<line x1="505.40" y1="99.60" x2="505.40" y2="102.00" stroke="#222" stroke-width="0.9"/>
<text x="429.20" y="112.20" font-size="6.5" text-anchor="middle" fill="#2a2a2a" stroke="#2a2a2a" stroke-width="0.22" font-weight="normal">90</text>
<text x="441.90" y="112.20" font-size="6.5" text-anchor="middle" fill="#2a2a2a" stroke="#2a2a2a" stroke-width="0.22" font-weight="normal">120</text>
<text x="454.60" y="112.20" font-size="6.5" text-anchor="middle" fill="#2a2a2a" stroke="#2a2a2a" stroke-width="0.22" font-weight="normal">150</text>
<text x="467.30" y="112.20" font-size="6.5" text-anchor="middle" fill="#2a2a2a" stroke="#2a2a2a" stroke-width="0.22" font-weight="normal">180</text>
<text x="480.00" y="112.20" font-size="6.5" text-anchor="middle" fill="#2a2a2a" stroke="#2a2a2a" stroke-width="0.22" font-weight="normal">210</text>
<text x="492.70" y="112.20" font-size="6.5" text-anchor="middle" fill="#2a2a2a" stroke="#2a2a2a" stroke-width="0.22" font-weight="normal">240</text>
<text x="505.40" y="112.20" font-size="6.5" text-anchor="middle" fill="#2a2a2a" stroke="#2a2a2a" stroke-width="0.22" font-weight="normal">270</text>
<text x="413.00" y="112.20" font-size="6.5" text-anchor="middle" fill="#2a2a2a" stroke="#2a2a2a" stroke-width="0.22" font-weight="normal">day</text>
<text x="465.00" y="33.20" font-size="9.0" text-anchor="middle" fill="#222" stroke="#222" stroke-width="0.22"><tspan>CD159c</tspan><tspan dy="-3.70" font-size="5.76">+</tspan></text>
<circle cx="480.00" cy="38.40" r="0.75" fill="#333"/>
<circle cx="492.70" cy="38.40" r="0.6" fill="#b0b0b0"/>
<circle cx="505.40" cy="38.40" r="0.6" fill="#b0b0b0"/>
<text x="0.00" y="0.00" font-size="7.0" text-anchor="middle" fill="#111" stroke="#111" stroke-width="0.34" transform="translate(401.50 69.50) rotate(-90) scale(0.87 1)"><tspan>CD56</tspan><tspan dy="-2.80" font-size="3.85">dim</tspan><tspan dy="2.80">/µL</tspan></text>
<line x1="503.80" y1="50.20" x2="507.00" y2="50.20" stroke="#666" stroke-width="0.9"/>
<rect x="425.90" y="140.70" width="6.90" height="57.90" fill="#f8c98e" stroke="none" stroke-width="0"/>
<line x1="433.40" y1="141.00" x2="433.40" y2="198.60" stroke="#2a2010" stroke-width="1.2" stroke-dasharray="1.9 2.4"/>
<line x1="429.20" y1="198.50" x2="429.20" y2="194.00" stroke="#cfb466" stroke-width="0.8"/>
<line x1="427.60" y1="194.00" x2="430.80" y2="194.00" stroke="#cfb466" stroke-width="0.8"/>
<line x1="427.60" y1="198.50" x2="430.80" y2="198.50" stroke="#cfb466" stroke-width="0.8"/>
<line x1="441.90" y1="198.00" x2="441.90" y2="192.00" stroke="#cfb466" stroke-width="0.8"/>
<line x1="440.30" y1="192.00" x2="443.50" y2="192.00" stroke="#cfb466" stroke-width="0.8"/>
<line x1="440.30" y1="198.00" x2="443.50" y2="198.00" stroke="#cfb466" stroke-width="0.8"/>
<line x1="454.60" y1="196.00" x2="454.60" y2="191.00" stroke="#cfb466" stroke-width="0.8"/>
<line x1="453.00" y1="191.00" x2="456.20" y2="191.00" stroke="#cfb466" stroke-width="0.8"/>
<line x1="453.00" y1="196.00" x2="456.20" y2="196.00" stroke="#cfb466" stroke-width="0.8"/>
<line x1="467.30" y1="195.00" x2="467.30" y2="189.00" stroke="#cfb466" stroke-width="0.8"/>
<line x1="465.70" y1="189.00" x2="468.90" y2="189.00" stroke="#cfb466" stroke-width="0.8"/>
<line x1="465.70" y1="195.00" x2="468.90" y2="195.00" stroke="#cfb466" stroke-width="0.8"/>
<line x1="480.00" y1="195.00" x2="480.00" y2="189.00" stroke="#cfb466" stroke-width="0.8"/>
<line x1="478.40" y1="189.00" x2="481.60" y2="189.00" stroke="#cfb466" stroke-width="0.8"/>
<line x1="478.40" y1="195.00" x2="481.60" y2="195.00" stroke="#cfb466" stroke-width="0.8"/>
<line x1="492.70" y1="195.00" x2="492.70" y2="189.00" stroke="#cfb466" stroke-width="0.8"/>
<line x1="491.10" y1="189.00" x2="494.30" y2="189.00" stroke="#cfb466" stroke-width="0.8"/>
<line x1="491.10" y1="195.00" x2="494.30" y2="195.00" stroke="#cfb466" stroke-width="0.8"/>
<line x1="505.40" y1="194.00" x2="505.40" y2="187.00" stroke="#cfb466" stroke-width="0.8"/>
<line x1="503.80" y1="187.00" x2="507.00" y2="187.00" stroke="#cfb466" stroke-width="0.8"/>
<line x1="503.80" y1="194.00" x2="507.00" y2="194.00" stroke="#cfb466" stroke-width="0.8"/>
<line x1="429.20" y1="198.50" x2="429.20" y2="190.10" stroke="#5e5a9a" stroke-width="0.8"/>
<line x1="427.60" y1="190.10" x2="430.80" y2="190.10" stroke="#5e5a9a" stroke-width="0.8"/>
<line x1="427.60" y1="198.50" x2="430.80" y2="198.50" stroke="#5e5a9a" stroke-width="0.8"/>
<line x1="441.90" y1="198.50" x2="441.90" y2="182.00" stroke="#5e5a9a" stroke-width="0.8"/>
<line x1="440.30" y1="182.00" x2="443.50" y2="182.00" stroke="#5e5a9a" stroke-width="0.8"/>
<line x1="440.30" y1="198.50" x2="443.50" y2="198.50" stroke="#5e5a9a" stroke-width="0.8"/>
<line x1="454.60" y1="193.00" x2="454.60" y2="181.40" stroke="#5e5a9a" stroke-width="0.8"/>
<line x1="453.00" y1="181.40" x2="456.20" y2="181.40" stroke="#5e5a9a" stroke-width="0.8"/>
<line x1="453.00" y1="193.00" x2="456.20" y2="193.00" stroke="#5e5a9a" stroke-width="0.8"/>
<line x1="467.30" y1="197.00" x2="467.30" y2="173.20" stroke="#5e5a9a" stroke-width="0.8"/>
<line x1="465.70" y1="173.20" x2="468.90" y2="173.20" stroke="#5e5a9a" stroke-width="0.8"/>
<line x1="465.70" y1="197.00" x2="468.90" y2="197.00" stroke="#5e5a9a" stroke-width="0.8"/>
<line x1="480.00" y1="193.00" x2="480.00" y2="165.50" stroke="#5e5a9a" stroke-width="0.8"/>
<line x1="478.40" y1="165.50" x2="481.60" y2="165.50" stroke="#5e5a9a" stroke-width="0.8"/>
<line x1="478.40" y1="193.00" x2="481.60" y2="193.00" stroke="#5e5a9a" stroke-width="0.8"/>
<line x1="492.70" y1="194.00" x2="492.70" y2="166.90" stroke="#5e5a9a" stroke-width="0.8"/>
<line x1="491.10" y1="166.90" x2="494.30" y2="166.90" stroke="#5e5a9a" stroke-width="0.8"/>
<line x1="491.10" y1="194.00" x2="494.30" y2="194.00" stroke="#5e5a9a" stroke-width="0.8"/>
<line x1="505.40" y1="186.00" x2="505.40" y2="156.80" stroke="#5e5a9a" stroke-width="0.8"/>
<line x1="503.80" y1="156.80" x2="507.00" y2="156.80" stroke="#5e5a9a" stroke-width="0.8"/>
<line x1="503.80" y1="186.00" x2="507.00" y2="186.00" stroke="#5e5a9a" stroke-width="0.8"/>
<polyline fill="none" stroke="#dcb53a" stroke-width="1" points="429.20,196.90 441.90,196.10 454.60,194.20 467.30,192.30 480.00,192.30 492.70,192.30 505.40,190.70"/>
<rect x="427.70" y="195.40" width="3.00" height="3.00" fill="#b8962c" stroke="none" stroke-width="0"/>
<rect x="440.40" y="194.60" width="3.00" height="3.00" fill="#b8962c" stroke="none" stroke-width="0"/>
<rect x="453.10" y="192.70" width="3.00" height="3.00" fill="#b8962c" stroke="none" stroke-width="0"/>
<rect x="465.80" y="190.80" width="3.00" height="3.00" fill="#b8962c" stroke="none" stroke-width="0"/>
<rect x="478.50" y="190.80" width="3.00" height="3.00" fill="#b8962c" stroke="none" stroke-width="0"/>
<rect x="491.20" y="190.80" width="3.00" height="3.00" fill="#b8962c" stroke="none" stroke-width="0"/>
<rect x="503.90" y="189.20" width="3.00" height="3.00" fill="#b8962c" stroke="none" stroke-width="0"/>
<polyline fill="none" stroke="#2e2672" stroke-width="1" points="429.20,196.10 441.90,196.10 454.60,188.70 467.30,186.00 480.00,181.10 492.70,183.30 505.40,173.20"/>
<circle cx="429.20" cy="196.10" r="1.7" fill="#231a66"/>
<circle cx="441.90" cy="196.10" r="1.7" fill="#231a66"/>
<circle cx="454.60" cy="188.70" r="1.7" fill="#231a66"/>
<circle cx="467.30" cy="186.00" r="1.7" fill="#231a66"/>
<circle cx="480.00" cy="181.10" r="1.7" fill="#231a66"/>
<circle cx="492.70" cy="183.30" r="1.7" fill="#231a66"/>
<circle cx="505.40" cy="173.20" r="1.7" fill="#231a66"/>
<line x1="425.30" y1="198.60" x2="425.30" y2="155.80" stroke="#222" stroke-width="1.2"/>
<line x1="425.30" y1="150.50" x2="425.30" y2="137.50" stroke="#222" stroke-width="1.2"/>
<line x1="422.70" y1="198.60" x2="507.50" y2="198.60" stroke="#222" stroke-width="1.2"/>
<line x1="422.70" y1="198.60" x2="425.30" y2="198.60" stroke="#222" stroke-width="0.9"/>
<text x="418.70" y="200.90" font-size="6.5" text-anchor="end" fill="#2a2a2a" stroke="#2a2a2a" stroke-width="0.22" font-weight="normal">0</text>
<line x1="422.70" y1="188.00" x2="425.30" y2="188.00" stroke="#222" stroke-width="0.9"/>
<text x="418.70" y="190.30" font-size="6.5" text-anchor="end" fill="#2a2a2a" stroke="#2a2a2a" stroke-width="0.22" font-weight="normal">75</text>
<line x1="422.70" y1="177.50" x2="425.30" y2="177.50" stroke="#222" stroke-width="0.9"/>
<text x="418.70" y="179.80" font-size="6.5" text-anchor="end" fill="#2a2a2a" stroke="#2a2a2a" stroke-width="0.22" font-weight="normal">150</text>
<line x1="422.70" y1="166.80" x2="425.30" y2="166.80" stroke="#222" stroke-width="0.9"/>
<text x="418.70" y="169.10" font-size="6.5" text-anchor="end" fill="#2a2a2a" stroke="#2a2a2a" stroke-width="0.22" font-weight="normal">225</text>
<line x1="422.70" y1="156.20" x2="425.30" y2="156.20" stroke="#222" stroke-width="0.9"/>
<text x="418.70" y="158.50" font-size="6.5" text-anchor="end" fill="#2a2a2a" stroke="#2a2a2a" stroke-width="0.22" font-weight="normal">300</text>
<line x1="422.70" y1="145.80" x2="425.30" y2="145.80" stroke="#222" stroke-width="0.9"/>
<text x="418.70" y="148.10" font-size="6.5" text-anchor="end" fill="#2a2a2a" stroke="#2a2a2a" stroke-width="0.22" font-weight="normal">600</text>
<line x1="422.70" y1="140.70" x2="425.30" y2="140.70" stroke="#222" stroke-width="0.9"/>
<text x="418.70" y="143.00" font-size="6.5" text-anchor="end" fill="#2a2a2a" stroke="#2a2a2a" stroke-width="0.22" font-weight="normal">900</text>
<line x1="429.20" y1="198.60" x2="429.20" y2="201.00" stroke="#222" stroke-width="0.9"/>
<line x1="441.90" y1="198.60" x2="441.90" y2="201.00" stroke="#222" stroke-width="0.9"/>
<line x1="454.60" y1="198.60" x2="454.60" y2="201.00" stroke="#222" stroke-width="0.9"/>
<line x1="467.30" y1="198.60" x2="467.30" y2="201.00" stroke="#222" stroke-width="0.9"/>
<line x1="480.00" y1="198.60" x2="480.00" y2="201.00" stroke="#222" stroke-width="0.9"/>
<line x1="492.70" y1="198.60" x2="492.70" y2="201.00" stroke="#222" stroke-width="0.9"/>
<line x1="505.40" y1="198.60" x2="505.40" y2="201.00" stroke="#222" stroke-width="0.9"/>
<text x="429.20" y="210.20" font-size="6.5" text-anchor="middle" fill="#2a2a2a" stroke="#2a2a2a" stroke-width="0.22" font-weight="normal">90</text>
<text x="441.90" y="210.20" font-size="6.5" text-anchor="middle" fill="#2a2a2a" stroke="#2a2a2a" stroke-width="0.22" font-weight="normal">120</text>
<text x="454.60" y="210.20" font-size="6.5" text-anchor="middle" fill="#2a2a2a" stroke="#2a2a2a" stroke-width="0.22" font-weight="normal">150</text>
<text x="467.30" y="210.20" font-size="6.5" text-anchor="middle" fill="#2a2a2a" stroke="#2a2a2a" stroke-width="0.22" font-weight="normal">180</text>
<text x="480.00" y="210.20" font-size="6.5" text-anchor="middle" fill="#2a2a2a" stroke="#2a2a2a" stroke-width="0.22" font-weight="normal">210</text>
<text x="492.70" y="210.20" font-size="6.5" text-anchor="middle" fill="#2a2a2a" stroke="#2a2a2a" stroke-width="0.22" font-weight="normal">240</text>
<text x="505.40" y="210.20" font-size="6.5" text-anchor="middle" fill="#2a2a2a" stroke="#2a2a2a" stroke-width="0.22" font-weight="normal">270</text>
<text x="413.00" y="210.20" font-size="6.5" text-anchor="middle" fill="#2a2a2a" stroke="#2a2a2a" stroke-width="0.22" font-weight="normal">day</text>
<text x="466.70" y="132.20" font-size="9.0" text-anchor="middle" fill="#222" stroke="#222" stroke-width="0.22"><tspan>CD159c</tspan><tspan dy="-3.70" font-size="5.76">+</tspan><tspan dy="3.70">CD57</tspan><tspan dy="-3.70" font-size="5.76">+</tspan></text>
<circle cx="480.00" cy="136.80" r="0.75" fill="#333"/>
<text x="0.00" y="0.00" font-size="7.0" text-anchor="middle" fill="#111" stroke="#111" stroke-width="0.34" transform="translate(401.50 168.50) rotate(-90) scale(0.87 1)"><tspan>CD56</tspan><tspan dy="-2.80" font-size="3.85">dim</tspan><tspan dy="2.80">/µL</tspan></text>
<line x1="503.80" y1="149.70" x2="507.00" y2="149.70" stroke="#666" stroke-width="0.9"/>
<text x="6.80" y="238.40" font-size="11.6" text-anchor="start" fill="#000" stroke="#000" stroke-width="0.22" font-weight="bold">C</text>
<rect x="47.60" y="253.80" width="7.50" height="60.50" fill="#f8c98e" stroke="none" stroke-width="0"/>
<line x1="55.70" y1="254.10" x2="55.70" y2="314.30" stroke="#2a2010" stroke-width="1.2" stroke-dasharray="1.9 2.4"/>
<line x1="51.30" y1="310.00" x2="51.30" y2="301.00" stroke="#cfb466" stroke-width="0.8"/>
<line x1="49.70" y1="301.00" x2="52.90" y2="301.00" stroke="#cfb466" stroke-width="0.8"/>
<line x1="49.70" y1="310.00" x2="52.90" y2="310.00" stroke="#cfb466" stroke-width="0.8"/>
<line x1="64.30" y1="310.00" x2="64.30" y2="300.00" stroke="#cfb466" stroke-width="0.8"/>
<line x1="62.70" y1="300.00" x2="65.90" y2="300.00" stroke="#cfb466" stroke-width="0.8"/>
<line x1="62.70" y1="310.00" x2="65.90" y2="310.00" stroke="#cfb466" stroke-width="0.8"/>
<line x1="77.30" y1="306.00" x2="77.30" y2="297.00" stroke="#cfb466" stroke-width="0.8"/>
<line x1="75.70" y1="297.00" x2="78.90" y2="297.00" stroke="#cfb466" stroke-width="0.8"/>
<line x1="75.70" y1="306.00" x2="78.90" y2="306.00" stroke="#cfb466" stroke-width="0.8"/>
<line x1="90.30" y1="306.00" x2="90.30" y2="290.00" stroke="#cfb466" stroke-width="0.8"/>
<line x1="88.70" y1="290.00" x2="91.90" y2="290.00" stroke="#cfb466" stroke-width="0.8"/>
<line x1="88.70" y1="306.00" x2="91.90" y2="306.00" stroke="#cfb466" stroke-width="0.8"/>
<line x1="103.30" y1="305.00" x2="103.30" y2="294.00" stroke="#cfb466" stroke-width="0.8"/>
<line x1="101.70" y1="294.00" x2="104.90" y2="294.00" stroke="#cfb466" stroke-width="0.8"/>
<line x1="101.70" y1="305.00" x2="104.90" y2="305.00" stroke="#cfb466" stroke-width="0.8"/>
<line x1="116.30" y1="305.00" x2="116.30" y2="293.00" stroke="#cfb466" stroke-width="0.8"/>
<line x1="114.70" y1="293.00" x2="117.90" y2="293.00" stroke="#cfb466" stroke-width="0.8"/>
<line x1="114.70" y1="305.00" x2="117.90" y2="305.00" stroke="#cfb466" stroke-width="0.8"/>
<line x1="129.30" y1="305.00" x2="129.30" y2="283.00" stroke="#cfb466" stroke-width="0.8"/>
<line x1="127.70" y1="283.00" x2="130.90" y2="283.00" stroke="#cfb466" stroke-width="0.8"/>
<line x1="127.70" y1="305.00" x2="130.90" y2="305.00" stroke="#cfb466" stroke-width="0.8"/>
<line x1="51.30" y1="306.00" x2="51.30" y2="292.00" stroke="#5e5a9a" stroke-width="0.8"/>
<line x1="49.70" y1="292.00" x2="52.90" y2="292.00" stroke="#5e5a9a" stroke-width="0.8"/>
<line x1="49.70" y1="306.00" x2="52.90" y2="306.00" stroke="#5e5a9a" stroke-width="0.8"/>
<line x1="64.30" y1="305.00" x2="64.30" y2="288.00" stroke="#5e5a9a" stroke-width="0.8"/>
<line x1="62.70" y1="288.00" x2="65.90" y2="288.00" stroke="#5e5a9a" stroke-width="0.8"/>
<line x1="62.70" y1="305.00" x2="65.90" y2="305.00" stroke="#5e5a9a" stroke-width="0.8"/>
<line x1="77.30" y1="296.00" x2="77.30" y2="281.00" stroke="#5e5a9a" stroke-width="0.8"/>
<line x1="75.70" y1="281.00" x2="78.90" y2="281.00" stroke="#5e5a9a" stroke-width="0.8"/>
<line x1="75.70" y1="296.00" x2="78.90" y2="296.00" stroke="#5e5a9a" stroke-width="0.8"/>
<line x1="90.30" y1="287.00" x2="90.30" y2="278.00" stroke="#5e5a9a" stroke-width="0.8"/>
<line x1="88.70" y1="278.00" x2="91.90" y2="278.00" stroke="#5e5a9a" stroke-width="0.8"/>
<line x1="88.70" y1="287.00" x2="91.90" y2="287.00" stroke="#5e5a9a" stroke-width="0.8"/>
<line x1="103.30" y1="287.00" x2="103.30" y2="265.00" stroke="#5e5a9a" stroke-width="0.8"/>
<line x1="101.70" y1="265.00" x2="104.90" y2="265.00" stroke="#5e5a9a" stroke-width="0.8"/>
<line x1="101.70" y1="287.00" x2="104.90" y2="287.00" stroke="#5e5a9a" stroke-width="0.8"/>
<line x1="116.30" y1="300.00" x2="116.30" y2="265.00" stroke="#5e5a9a" stroke-width="0.8"/>
<line x1="114.70" y1="265.00" x2="117.90" y2="265.00" stroke="#5e5a9a" stroke-width="0.8"/>
<line x1="114.70" y1="300.00" x2="117.90" y2="300.00" stroke="#5e5a9a" stroke-width="0.8"/>
<line x1="129.30" y1="283.00" x2="129.30" y2="269.00" stroke="#5e5a9a" stroke-width="0.8"/>
<line x1="127.70" y1="269.00" x2="130.90" y2="269.00" stroke="#5e5a9a" stroke-width="0.8"/>
<line x1="127.70" y1="283.00" x2="130.90" y2="283.00" stroke="#5e5a9a" stroke-width="0.8"/>
<polyline fill="none" stroke="#dcb53a" stroke-width="1" points="51.30,305.50 64.30,304.50 77.30,301.30 90.30,300.00 103.30,299.30 116.30,297.50 129.30,288.80"/>
<rect x="49.80" y="304.00" width="3.00" height="3.00" fill="#b8962c" stroke="none" stroke-width="0"/>
<rect x="62.80" y="303.00" width="3.00" height="3.00" fill="#b8962c" stroke="none" stroke-width="0"/>
<rect x="75.80" y="299.80" width="3.00" height="3.00" fill="#b8962c" stroke="none" stroke-width="0"/>
<rect x="88.80" y="298.50" width="3.00" height="3.00" fill="#b8962c" stroke="none" stroke-width="0"/>
<rect x="101.80" y="297.80" width="3.00" height="3.00" fill="#b8962c" stroke="none" stroke-width="0"/>
<rect x="114.80" y="296.00" width="3.00" height="3.00" fill="#b8962c" stroke="none" stroke-width="0"/>
<rect x="127.80" y="287.30" width="3.00" height="3.00" fill="#b8962c" stroke="none" stroke-width="0"/>
<polyline fill="none" stroke="#2e2672" stroke-width="1" points="51.30,299.50 64.30,296.30 77.30,288.80 90.30,282.50 103.30,277.00 116.30,280.50 129.30,277.00"/>
<circle cx="51.30" cy="299.50" r="1.7" fill="#231a66"/>
<circle cx="64.30" cy="296.30" r="1.7" fill="#231a66"/>
<circle cx="77.30" cy="288.80" r="1.7" fill="#231a66"/>
<circle cx="90.30" cy="282.50" r="1.7" fill="#231a66"/>
<circle cx="103.30" cy="277.00" r="1.7" fill="#231a66"/>
<circle cx="116.30" cy="280.50" r="1.7" fill="#231a66"/>
<circle cx="129.30" cy="277.00" r="1.7" fill="#231a66"/>
<line x1="47.00" y1="314.80" x2="47.00" y2="250.60" stroke="#222" stroke-width="1.2"/>
<line x1="44.40" y1="314.30" x2="132.00" y2="314.30" stroke="#222" stroke-width="1.2"/>
<line x1="44.40" y1="314.30" x2="47.00" y2="314.30" stroke="#222" stroke-width="0.9"/>
<text x="40.40" y="316.60" font-size="6.5" text-anchor="end" fill="#2a2a2a" stroke="#2a2a2a" stroke-width="0.22" font-weight="normal">0</text>
<line x1="44.40" y1="299.20" x2="47.00" y2="299.20" stroke="#222" stroke-width="0.9"/>
<text x="40.40" y="301.50" font-size="6.5" text-anchor="end" fill="#2a2a2a" stroke="#2a2a2a" stroke-width="0.22" font-weight="normal">20</text>
<line x1="44.40" y1="284.10" x2="47.00" y2="284.10" stroke="#222" stroke-width="0.9"/>
<text x="40.40" y="286.40" font-size="6.5" text-anchor="end" fill="#2a2a2a" stroke="#2a2a2a" stroke-width="0.22" font-weight="normal">40</text>
<line x1="44.40" y1="269.00" x2="47.00" y2="269.00" stroke="#222" stroke-width="0.9"/>
<text x="40.40" y="271.30" font-size="6.5" text-anchor="end" fill="#2a2a2a" stroke="#2a2a2a" stroke-width="0.22" font-weight="normal">60</text>
<line x1="44.40" y1="253.80" x2="47.00" y2="253.80" stroke="#222" stroke-width="0.9"/>
<text x="40.40" y="256.10" font-size="6.5" text-anchor="end" fill="#2a2a2a" stroke="#2a2a2a" stroke-width="0.22" font-weight="normal">80</text>
<line x1="51.30" y1="314.30" x2="51.30" y2="316.70" stroke="#222" stroke-width="0.9"/>
<line x1="64.30" y1="314.30" x2="64.30" y2="316.70" stroke="#222" stroke-width="0.9"/>
<line x1="77.30" y1="314.30" x2="77.30" y2="316.70" stroke="#222" stroke-width="0.9"/>
<line x1="90.30" y1="314.30" x2="90.30" y2="316.70" stroke="#222" stroke-width="0.9"/>
<line x1="103.30" y1="314.30" x2="103.30" y2="316.70" stroke="#222" stroke-width="0.9"/>
<line x1="116.30" y1="314.30" x2="116.30" y2="316.70" stroke="#222" stroke-width="0.9"/>
<line x1="129.30" y1="314.30" x2="129.30" y2="316.70" stroke="#222" stroke-width="0.9"/>
<text x="51.30" y="326.30" font-size="6.5" text-anchor="middle" fill="#2a2a2a" stroke="#2a2a2a" stroke-width="0.22" font-weight="normal">90</text>
<text x="64.30" y="326.30" font-size="6.5" text-anchor="middle" fill="#2a2a2a" stroke="#2a2a2a" stroke-width="0.22" font-weight="normal">120</text>
<text x="77.30" y="326.30" font-size="6.5" text-anchor="middle" fill="#2a2a2a" stroke="#2a2a2a" stroke-width="0.22" font-weight="normal">150</text>
<text x="90.30" y="326.30" font-size="6.5" text-anchor="middle" fill="#2a2a2a" stroke="#2a2a2a" stroke-width="0.22" font-weight="normal">180</text>
<text x="103.30" y="326.30" font-size="6.5" text-anchor="middle" fill="#2a2a2a" stroke="#2a2a2a" stroke-width="0.22" font-weight="normal">210</text>
<text x="116.30" y="326.30" font-size="6.5" text-anchor="middle" fill="#2a2a2a" stroke="#2a2a2a" stroke-width="0.22" font-weight="normal">240</text>
<text x="129.30" y="326.30" font-size="6.5" text-anchor="middle" fill="#2a2a2a" stroke="#2a2a2a" stroke-width="0.22" font-weight="normal">270</text>
<text x="39.30" y="326.30" font-size="6.5" text-anchor="middle" fill="#2a2a2a" stroke="#2a2a2a" stroke-width="0.22" font-weight="normal">day</text>
<text x="87.50" y="245.20" font-size="9.0" text-anchor="middle" fill="#222" stroke="#222" stroke-width="0.22"><tspan>CD159c</tspan><tspan dy="-3.70" font-size="5.76">+</tspan></text>
<circle cx="90.50" cy="249.80" r="0.6" fill="#b0b0b0"/>
<circle cx="102.05" cy="249.80" r="0.75" fill="#333"/>
<circle cx="104.55" cy="249.80" r="0.75" fill="#333"/>
<text x="0.00" y="0.00" font-size="7.0" text-anchor="middle" fill="#111" stroke="#111" stroke-width="0.34" transform="translate(26.50 283.50) rotate(-90) scale(0.87 1)"><tspan>CD56</tspan><tspan dy="-2.80" font-size="3.85">dim</tspan><tspan dy="2.80">/CD56</tspan><tspan dy="-2.80" font-size="3.85">+</tspan><tspan dy="2.80">CD3</tspan><tspan dy="-2.80" font-size="3.85">−</tspan><tspan dy="2.80"> (%)</tspan></text>
<rect x="158.30" y="253.60" width="7.60" height="60.70" fill="#f8c98e" stroke="none" stroke-width="0"/>
<line x1="166.50" y1="253.90" x2="166.50" y2="314.30" stroke="#2a2010" stroke-width="1.2" stroke-dasharray="1.9 2.4"/>
<line x1="161.90" y1="311.00" x2="161.90" y2="303.00" stroke="#cfb466" stroke-width="0.8"/>
<line x1="160.30" y1="303.00" x2="163.50" y2="303.00" stroke="#cfb466" stroke-width="0.8"/>
<line x1="160.30" y1="311.00" x2="163.50" y2="311.00" stroke="#cfb466" stroke-width="0.8"/>
<line x1="174.90" y1="311.00" x2="174.90" y2="301.00" stroke="#cfb466" stroke-width="0.8"/>
<line x1="173.30" y1="301.00" x2="176.50" y2="301.00" stroke="#cfb466" stroke-width="0.8"/>
<line x1="173.30" y1="311.00" x2="176.50" y2="311.00" stroke="#cfb466" stroke-width="0.8"/>
<line x1="187.90" y1="309.00" x2="187.90" y2="298.00" stroke="#cfb466" stroke-width="0.8"/>
<line x1="186.30" y1="298.00" x2="189.50" y2="298.00" stroke="#cfb466" stroke-width="0.8"/>
<line x1="186.30" y1="309.00" x2="189.50" y2="309.00" stroke="#cfb466" stroke-width="0.8"/>
<line x1="200.90" y1="309.00" x2="200.90" y2="296.00" stroke="#cfb466" stroke-width="0.8"/>
<line x1="199.30" y1="296.00" x2="202.50" y2="296.00" stroke="#cfb466" stroke-width="0.8"/>
<line x1="199.30" y1="309.00" x2="202.50" y2="309.00" stroke="#cfb466" stroke-width="0.8"/>
<line x1="213.90" y1="309.00" x2="213.90" y2="298.00" stroke="#cfb466" stroke-width="0.8"/>
<line x1="212.30" y1="298.00" x2="215.50" y2="298.00" stroke="#cfb466" stroke-width="0.8"/>
<line x1="212.30" y1="309.00" x2="215.50" y2="309.00" stroke="#cfb466" stroke-width="0.8"/>
<line x1="226.90" y1="308.00" x2="226.90" y2="295.00" stroke="#cfb466" stroke-width="0.8"/>
<line x1="225.30" y1="295.00" x2="228.50" y2="295.00" stroke="#cfb466" stroke-width="0.8"/>
<line x1="225.30" y1="308.00" x2="228.50" y2="308.00" stroke="#cfb466" stroke-width="0.8"/>
<line x1="239.90" y1="308.00" x2="239.90" y2="292.00" stroke="#cfb466" stroke-width="0.8"/>
<line x1="238.30" y1="292.00" x2="241.50" y2="292.00" stroke="#cfb466" stroke-width="0.8"/>
<line x1="238.30" y1="308.00" x2="241.50" y2="308.00" stroke="#cfb466" stroke-width="0.8"/>
<line x1="161.90" y1="306.00" x2="161.90" y2="299.00" stroke="#5e5a9a" stroke-width="0.8"/>
<line x1="160.30" y1="299.00" x2="163.50" y2="299.00" stroke="#5e5a9a" stroke-width="0.8"/>
<line x1="160.30" y1="306.00" x2="163.50" y2="306.00" stroke="#5e5a9a" stroke-width="0.8"/>
<line x1="174.90" y1="305.00" x2="174.90" y2="296.00" stroke="#5e5a9a" stroke-width="0.8"/>
<line x1="173.30" y1="296.00" x2="176.50" y2="296.00" stroke="#5e5a9a" stroke-width="0.8"/>
<line x1="173.30" y1="305.00" x2="176.50" y2="305.00" stroke="#5e5a9a" stroke-width="0.8"/>
<line x1="187.90" y1="298.00" x2="187.90" y2="288.00" stroke="#5e5a9a" stroke-width="0.8"/>
<line x1="186.30" y1="288.00" x2="189.50" y2="288.00" stroke="#5e5a9a" stroke-width="0.8"/>
<line x1="186.30" y1="298.00" x2="189.50" y2="298.00" stroke="#5e5a9a" stroke-width="0.8"/>
<line x1="200.90" y1="293.00" x2="200.90" y2="285.00" stroke="#5e5a9a" stroke-width="0.8"/>
<line x1="199.30" y1="285.00" x2="202.50" y2="285.00" stroke="#5e5a9a" stroke-width="0.8"/>
<line x1="199.30" y1="293.00" x2="202.50" y2="293.00" stroke="#5e5a9a" stroke-width="0.8"/>
<line x1="213.90" y1="296.00" x2="213.90" y2="272.00" stroke="#5e5a9a" stroke-width="0.8"/>
<line x1="212.30" y1="272.00" x2="215.50" y2="272.00" stroke="#5e5a9a" stroke-width="0.8"/>
<line x1="212.30" y1="296.00" x2="215.50" y2="296.00" stroke="#5e5a9a" stroke-width="0.8"/>
<line x1="226.90" y1="300.00" x2="226.90" y2="274.00" stroke="#5e5a9a" stroke-width="0.8"/>
<line x1="225.30" y1="274.00" x2="228.50" y2="274.00" stroke="#5e5a9a" stroke-width="0.8"/>
<line x1="225.30" y1="300.00" x2="228.50" y2="300.00" stroke="#5e5a9a" stroke-width="0.8"/>
<line x1="239.90" y1="292.00" x2="239.90" y2="275.00" stroke="#5e5a9a" stroke-width="0.8"/>
<line x1="238.30" y1="275.00" x2="241.50" y2="275.00" stroke="#5e5a9a" stroke-width="0.8"/>
<line x1="238.30" y1="292.00" x2="241.50" y2="292.00" stroke="#5e5a9a" stroke-width="0.8"/>
<polyline fill="none" stroke="#dcb53a" stroke-width="1" points="161.90,306.90 174.90,306.30 187.90,304.40 200.90,303.00 213.90,304.40 226.90,301.00 239.90,297.10"/>
<rect x="160.40" y="305.40" width="3.00" height="3.00" fill="#b8962c" stroke="none" stroke-width="0"/>
<rect x="173.40" y="304.80" width="3.00" height="3.00" fill="#b8962c" stroke="none" stroke-width="0"/>
<rect x="186.40" y="302.90" width="3.00" height="3.00" fill="#b8962c" stroke="none" stroke-width="0"/>
<rect x="199.40" y="301.50" width="3.00" height="3.00" fill="#b8962c" stroke="none" stroke-width="0"/>
<rect x="212.40" y="302.90" width="3.00" height="3.00" fill="#b8962c" stroke="none" stroke-width="0"/>
<rect x="225.40" y="299.50" width="3.00" height="3.00" fill="#b8962c" stroke="none" stroke-width="0"/>
<rect x="238.40" y="295.60" width="3.00" height="3.00" fill="#b8962c" stroke="none" stroke-width="0"/>
<polyline fill="none" stroke="#2e2672" stroke-width="1" points="161.90,302.30 174.90,301.00 187.90,292.70 200.90,289.00 213.90,286.20 226.90,289.40 239.90,285.80"/>
<circle cx="161.90" cy="302.30" r="1.7" fill="#231a66"/>
<circle cx="174.90" cy="301.00" r="1.7" fill="#231a66"/>
<circle cx="187.90" cy="292.70" r="1.7" fill="#231a66"/>
<circle cx="200.90" cy="289.00" r="1.7" fill="#231a66"/>
<circle cx="213.90" cy="286.20" r="1.7" fill="#231a66"/>
<circle cx="226.90" cy="289.40" r="1.7" fill="#231a66"/>
<circle cx="239.90" cy="285.80" r="1.7" fill="#231a66"/>
<line x1="157.70" y1="314.80" x2="157.70" y2="250.20" stroke="#222" stroke-width="1.2"/>
<line x1="157.20" y1="314.30" x2="243.30" y2="314.30" stroke="#222" stroke-width="1.2"/>
<line x1="161.90" y1="314.30" x2="161.90" y2="316.70" stroke="#222" stroke-width="0.9"/>
<line x1="174.90" y1="314.30" x2="174.90" y2="316.70" stroke="#222" stroke-width="0.9"/>
<line x1="187.90" y1="314.30" x2="187.90" y2="316.70" stroke="#222" stroke-width="0.9"/>
<line x1="200.90" y1="314.30" x2="200.90" y2="316.70" stroke="#222" stroke-width="0.9"/>
<line x1="213.90" y1="314.30" x2="213.90" y2="316.70" stroke="#222" stroke-width="0.9"/>
<line x1="226.90" y1="314.30" x2="226.90" y2="316.70" stroke="#222" stroke-width="0.9"/>
<line x1="239.90" y1="314.30" x2="239.90" y2="316.70" stroke="#222" stroke-width="0.9"/>
<text x="161.90" y="326.30" font-size="6.5" text-anchor="middle" fill="#2a2a2a" stroke="#2a2a2a" stroke-width="0.22" font-weight="normal">90</text>
<text x="174.90" y="326.30" font-size="6.5" text-anchor="middle" fill="#2a2a2a" stroke="#2a2a2a" stroke-width="0.22" font-weight="normal">120</text>
<text x="187.90" y="326.30" font-size="6.5" text-anchor="middle" fill="#2a2a2a" stroke="#2a2a2a" stroke-width="0.22" font-weight="normal">150</text>
<text x="200.90" y="326.30" font-size="6.5" text-anchor="middle" fill="#2a2a2a" stroke="#2a2a2a" stroke-width="0.22" font-weight="normal">180</text>
<text x="213.90" y="326.30" font-size="6.5" text-anchor="middle" fill="#2a2a2a" stroke="#2a2a2a" stroke-width="0.22" font-weight="normal">210</text>
<text x="226.90" y="326.30" font-size="6.5" text-anchor="middle" fill="#2a2a2a" stroke="#2a2a2a" stroke-width="0.22" font-weight="normal">240</text>
<text x="239.90" y="326.30" font-size="6.5" text-anchor="middle" fill="#2a2a2a" stroke="#2a2a2a" stroke-width="0.22" font-weight="normal">270</text>
<text x="198.30" y="245.20" font-size="9.0" text-anchor="middle" fill="#222" stroke="#222" stroke-width="0.22"><tspan>CD159c</tspan><tspan dy="-3.70" font-size="5.76">+</tspan><tspan dy="3.70">CD57</tspan><tspan dy="-3.70" font-size="5.76">+</tspan></text>
<circle cx="212.75" cy="249.80" r="0.75" fill="#333"/>
<circle cx="215.25" cy="249.80" r="0.75" fill="#333"/>
<text x="267.00" y="238.00" font-size="11.6" text-anchor="start" fill="#000" stroke="#000" stroke-width="0.22" font-weight="bold">D</text>
<rect x="312.20" y="253.20" width="7.40" height="60.90" fill="#f8c98e" stroke="none" stroke-width="0"/>
<line x1="320.20" y1="253.50" x2="320.20" y2="314.10" stroke="#2a2010" stroke-width="1.2" stroke-dasharray="1.9 2.4"/>
<line x1="315.40" y1="313.50" x2="315.40" y2="309.00" stroke="#cfb466" stroke-width="0.8"/>
<line x1="313.80" y1="309.00" x2="317.00" y2="309.00" stroke="#cfb466" stroke-width="0.8"/>
<line x1="313.80" y1="313.50" x2="317.00" y2="313.50" stroke="#cfb466" stroke-width="0.8"/>
<line x1="328.52" y1="313.00" x2="328.52" y2="308.00" stroke="#cfb466" stroke-width="0.8"/>
<line x1="326.92" y1="308.00" x2="330.12" y2="308.00" stroke="#cfb466" stroke-width="0.8"/>
<line x1="326.92" y1="313.00" x2="330.12" y2="313.00" stroke="#cfb466" stroke-width="0.8"/>
<line x1="341.64" y1="312.00" x2="341.64" y2="307.00" stroke="#cfb466" stroke-width="0.8"/>
<line x1="340.04" y1="307.00" x2="343.24" y2="307.00" stroke="#cfb466" stroke-width="0.8"/>
<line x1="340.04" y1="312.00" x2="343.24" y2="312.00" stroke="#cfb466" stroke-width="0.8"/>
<line x1="354.76" y1="310.00" x2="354.76" y2="302.00" stroke="#cfb466" stroke-width="0.8"/>
<line x1="353.16" y1="302.00" x2="356.36" y2="302.00" stroke="#cfb466" stroke-width="0.8"/>
<line x1="353.16" y1="310.00" x2="356.36" y2="310.00" stroke="#cfb466" stroke-width="0.8"/>
<line x1="367.88" y1="311.00" x2="367.88" y2="304.00" stroke="#cfb466" stroke-width="0.8"/>
<line x1="366.28" y1="304.00" x2="369.48" y2="304.00" stroke="#cfb466" stroke-width="0.8"/>
<line x1="366.28" y1="311.00" x2="369.48" y2="311.00" stroke="#cfb466" stroke-width="0.8"/>
<line x1="381.00" y1="307.50" x2="381.00" y2="299.00" stroke="#cfb466" stroke-width="0.8"/>
<line x1="379.40" y1="299.00" x2="382.60" y2="299.00" stroke="#cfb466" stroke-width="0.8"/>
<line x1="379.40" y1="307.50" x2="382.60" y2="307.50" stroke="#cfb466" stroke-width="0.8"/>
<line x1="394.12" y1="307.50" x2="394.12" y2="298.00" stroke="#cfb466" stroke-width="0.8"/>
<line x1="392.52" y1="298.00" x2="395.72" y2="298.00" stroke="#cfb466" stroke-width="0.8"/>
<line x1="392.52" y1="307.50" x2="395.72" y2="307.50" stroke="#cfb466" stroke-width="0.8"/>
<line x1="315.40" y1="312.50" x2="315.40" y2="300.70" stroke="#5e5a9a" stroke-width="0.8"/>
<line x1="313.80" y1="300.70" x2="317.00" y2="300.70" stroke="#5e5a9a" stroke-width="0.8"/>
<line x1="313.80" y1="312.50" x2="317.00" y2="312.50" stroke="#5e5a9a" stroke-width="0.8"/>
<line x1="328.52" y1="310.80" x2="328.52" y2="295.80" stroke="#5e5a9a" stroke-width="0.8"/>
<line x1="326.92" y1="295.80" x2="330.12" y2="295.80" stroke="#5e5a9a" stroke-width="0.8"/>
<line x1="326.92" y1="310.80" x2="330.12" y2="310.80" stroke="#5e5a9a" stroke-width="0.8"/>
<line x1="341.64" y1="309.00" x2="341.64" y2="279.20" stroke="#5e5a9a" stroke-width="0.8"/>
<line x1="340.04" y1="279.20" x2="343.24" y2="279.20" stroke="#5e5a9a" stroke-width="0.8"/>
<line x1="340.04" y1="309.00" x2="343.24" y2="309.00" stroke="#5e5a9a" stroke-width="0.8"/>
<line x1="354.76" y1="303.50" x2="354.76" y2="278.40" stroke="#5e5a9a" stroke-width="0.8"/>
<line x1="353.16" y1="278.40" x2="356.36" y2="278.40" stroke="#5e5a9a" stroke-width="0.8"/>
<line x1="353.16" y1="303.50" x2="356.36" y2="303.50" stroke="#5e5a9a" stroke-width="0.8"/>
<line x1="367.88" y1="303.50" x2="367.88" y2="257.40" stroke="#5e5a9a" stroke-width="0.8"/>
<line x1="366.28" y1="257.40" x2="369.48" y2="257.40" stroke="#5e5a9a" stroke-width="0.8"/>
<line x1="366.28" y1="303.50" x2="369.48" y2="303.50" stroke="#5e5a9a" stroke-width="0.8"/>
<line x1="381.00" y1="299.80" x2="381.00" y2="277.50" stroke="#5e5a9a" stroke-width="0.8"/>
<line x1="379.40" y1="277.50" x2="382.60" y2="277.50" stroke="#5e5a9a" stroke-width="0.8"/>
<line x1="379.40" y1="299.80" x2="382.60" y2="299.80" stroke="#5e5a9a" stroke-width="0.8"/>
<line x1="394.12" y1="294.30" x2="394.12" y2="260.50" stroke="#5e5a9a" stroke-width="0.8"/>
<line x1="392.52" y1="260.50" x2="395.72" y2="260.50" stroke="#5e5a9a" stroke-width="0.8"/>
<line x1="392.52" y1="294.30" x2="395.72" y2="294.30" stroke="#5e5a9a" stroke-width="0.8"/>
<polyline fill="none" stroke="#dcb53a" stroke-width="1" points="315.40,311.70 328.52,310.80 341.64,309.90 354.76,306.20 367.88,308.60 381.00,303.80 394.12,303.50"/>
<rect x="313.90" y="310.20" width="3.00" height="3.00" fill="#b8962c" stroke="none" stroke-width="0"/>
<rect x="327.02" y="309.30" width="3.00" height="3.00" fill="#b8962c" stroke="none" stroke-width="0"/>
<rect x="340.14" y="308.40" width="3.00" height="3.00" fill="#b8962c" stroke="none" stroke-width="0"/>
<rect x="353.26" y="304.70" width="3.00" height="3.00" fill="#b8962c" stroke="none" stroke-width="0"/>
<rect x="366.38" y="307.10" width="3.00" height="3.00" fill="#b8962c" stroke="none" stroke-width="0"/>
<rect x="379.50" y="302.30" width="3.00" height="3.00" fill="#b8962c" stroke="none" stroke-width="0"/>
<rect x="392.62" y="302.00" width="3.00" height="3.00" fill="#b8962c" stroke="none" stroke-width="0"/>
<polyline fill="none" stroke="#2e2672" stroke-width="1" points="315.40,308.60 328.52,307.50 341.64,304.00 354.76,290.70 367.88,288.10 381.00,282.80 394.12,273.70"/>
<circle cx="315.40" cy="308.60" r="1.7" fill="#231a66"/>
<circle cx="328.52" cy="307.50" r="1.7" fill="#231a66"/>
<circle cx="341.64" cy="304.00" r="1.7" fill="#231a66"/>
<circle cx="354.76" cy="290.70" r="1.7" fill="#231a66"/>
<circle cx="367.88" cy="288.10" r="1.7" fill="#231a66"/>
<circle cx="381.00" cy="282.80" r="1.7" fill="#231a66"/>
<circle cx="394.12" cy="273.70" r="1.7" fill="#231a66"/>
<line x1="311.60" y1="314.10" x2="311.60" y2="268.90" stroke="#222" stroke-width="1.2"/>
<line x1="311.60" y1="263.50" x2="311.60" y2="250.00" stroke="#222" stroke-width="1.2"/>
<line x1="309.00" y1="314.10" x2="396.50" y2="314.10" stroke="#222" stroke-width="1.2"/>
<line x1="309.00" y1="314.10" x2="311.60" y2="314.10" stroke="#222" stroke-width="0.9"/>
<text x="305.00" y="316.40" font-size="6.5" text-anchor="end" fill="#2a2a2a" stroke="#2a2a2a" stroke-width="0.22" font-weight="normal">0</text>
<line x1="309.00" y1="302.80" x2="311.60" y2="302.80" stroke="#222" stroke-width="0.9"/>
<text x="305.00" y="305.10" font-size="6.5" text-anchor="end" fill="#2a2a2a" stroke="#2a2a2a" stroke-width="0.22" font-weight="normal">30</text>
<line x1="309.00" y1="291.50" x2="311.60" y2="291.50" stroke="#222" stroke-width="0.9"/>
<text x="305.00" y="293.80" font-size="6.5" text-anchor="end" fill="#2a2a2a" stroke="#2a2a2a" stroke-width="0.22" font-weight="normal">60</text>
<line x1="309.00" y1="280.20" x2="311.60" y2="280.20" stroke="#222" stroke-width="0.9"/>
<text x="305.00" y="282.50" font-size="6.5" text-anchor="end" fill="#2a2a2a" stroke="#2a2a2a" stroke-width="0.22" font-weight="normal">90</text>
<line x1="309.00" y1="268.90" x2="311.60" y2="268.90" stroke="#222" stroke-width="0.9"/>
<text x="305.00" y="271.20" font-size="6.5" text-anchor="end" fill="#2a2a2a" stroke="#2a2a2a" stroke-width="0.22" font-weight="normal">120</text>
<line x1="309.00" y1="259.50" x2="311.60" y2="259.50" stroke="#222" stroke-width="0.9"/>
<text x="305.00" y="261.80" font-size="6.5" text-anchor="end" fill="#2a2a2a" stroke="#2a2a2a" stroke-width="0.22" font-weight="normal">150</text>
<line x1="309.00" y1="253.40" x2="311.60" y2="253.40" stroke="#222" stroke-width="0.9"/>
<text x="305.00" y="255.70" font-size="6.5" text-anchor="end" fill="#2a2a2a" stroke="#2a2a2a" stroke-width="0.22" font-weight="normal">200</text>
<line x1="315.40" y1="314.10" x2="315.40" y2="316.50" stroke="#222" stroke-width="0.9"/>
<line x1="328.52" y1="314.10" x2="328.52" y2="316.50" stroke="#222" stroke-width="0.9"/>
<line x1="341.64" y1="314.10" x2="341.64" y2="316.50" stroke="#222" stroke-width="0.9"/>
<line x1="354.76" y1="314.10" x2="354.76" y2="316.50" stroke="#222" stroke-width="0.9"/>
<line x1="367.88" y1="314.10" x2="367.88" y2="316.50" stroke="#222" stroke-width="0.9"/>
<line x1="381.00" y1="314.10" x2="381.00" y2="316.50" stroke="#222" stroke-width="0.9"/>
<line x1="394.12" y1="314.10" x2="394.12" y2="316.50" stroke="#222" stroke-width="0.9"/>
<text x="315.40" y="326.30" font-size="6.5" text-anchor="middle" fill="#2a2a2a" stroke="#2a2a2a" stroke-width="0.22" font-weight="normal">90</text>
<text x="328.52" y="326.30" font-size="6.5" text-anchor="middle" fill="#2a2a2a" stroke="#2a2a2a" stroke-width="0.22" font-weight="normal">120</text>
<text x="341.64" y="326.30" font-size="6.5" text-anchor="middle" fill="#2a2a2a" stroke="#2a2a2a" stroke-width="0.22" font-weight="normal">150</text>
<text x="354.76" y="326.30" font-size="6.5" text-anchor="middle" fill="#2a2a2a" stroke="#2a2a2a" stroke-width="0.22" font-weight="normal">180</text>
<text x="367.88" y="326.30" font-size="6.5" text-anchor="middle" fill="#2a2a2a" stroke="#2a2a2a" stroke-width="0.22" font-weight="normal">210</text>
<text x="381.00" y="326.30" font-size="6.5" text-anchor="middle" fill="#2a2a2a" stroke="#2a2a2a" stroke-width="0.22" font-weight="normal">240</text>
<text x="394.12" y="326.30" font-size="6.5" text-anchor="middle" fill="#2a2a2a" stroke="#2a2a2a" stroke-width="0.22" font-weight="normal">270</text>
<text x="299.20" y="326.30" font-size="6.5" text-anchor="middle" fill="#2a2a2a" stroke="#2a2a2a" stroke-width="0.22" font-weight="normal">day</text>
<text x="352.60" y="245.80" font-size="9.0" text-anchor="middle" fill="#222" stroke="#222" stroke-width="0.22"><tspan>CD159c</tspan><tspan dy="-3.70" font-size="5.76">++</tspan></text>
<circle cx="355.00" cy="249.60" r="0.6" fill="#b0b0b0"/>
<circle cx="368.00" cy="249.60" r="0.75" fill="#333"/>
<circle cx="394.20" cy="249.60" r="0.75" fill="#333"/>
<text x="0.00" y="0.00" font-size="7.0" text-anchor="middle" fill="#111" stroke="#111" stroke-width="0.34" transform="translate(288.40 282.20) rotate(-90) scale(0.87 1)"><tspan>CD56</tspan><tspan dy="-2.80" font-size="3.85">dim</tspan><tspan dy="2.80">/µL</tspan></text>
<rect x="426.00" y="253.30" width="7.10" height="61.10" fill="#f8c98e" stroke="none" stroke-width="0"/>
<line x1="433.70" y1="253.60" x2="433.70" y2="314.40" stroke="#2a2010" stroke-width="1.2" stroke-dasharray="1.9 2.4"/>
<line x1="429.70" y1="314.00" x2="429.70" y2="310.00" stroke="#cfb466" stroke-width="0.8"/>
<line x1="428.10" y1="310.00" x2="431.30" y2="310.00" stroke="#cfb466" stroke-width="0.8"/>
<line x1="428.10" y1="314.00" x2="431.30" y2="314.00" stroke="#cfb466" stroke-width="0.8"/>
<line x1="442.70" y1="313.00" x2="442.70" y2="308.00" stroke="#cfb466" stroke-width="0.8"/>
<line x1="441.10" y1="308.00" x2="444.30" y2="308.00" stroke="#cfb466" stroke-width="0.8"/>
<line x1="441.10" y1="313.00" x2="444.30" y2="313.00" stroke="#cfb466" stroke-width="0.8"/>
<line x1="455.70" y1="313.00" x2="455.70" y2="308.00" stroke="#cfb466" stroke-width="0.8"/>
<line x1="454.10" y1="308.00" x2="457.30" y2="308.00" stroke="#cfb466" stroke-width="0.8"/>
<line x1="454.10" y1="313.00" x2="457.30" y2="313.00" stroke="#cfb466" stroke-width="0.8"/>
<line x1="468.70" y1="312.00" x2="468.70" y2="305.00" stroke="#cfb466" stroke-width="0.8"/>
<line x1="467.10" y1="305.00" x2="470.30" y2="305.00" stroke="#cfb466" stroke-width="0.8"/>
<line x1="467.10" y1="312.00" x2="470.30" y2="312.00" stroke="#cfb466" stroke-width="0.8"/>
<line x1="481.70" y1="313.00" x2="481.70" y2="307.00" stroke="#cfb466" stroke-width="0.8"/>
<line x1="480.10" y1="307.00" x2="483.30" y2="307.00" stroke="#cfb466" stroke-width="0.8"/>
<line x1="480.10" y1="313.00" x2="483.30" y2="313.00" stroke="#cfb466" stroke-width="0.8"/>
<line x1="494.70" y1="311.00" x2="494.70" y2="304.00" stroke="#cfb466" stroke-width="0.8"/>
<line x1="493.10" y1="304.00" x2="496.30" y2="304.00" stroke="#cfb466" stroke-width="0.8"/>
<line x1="493.10" y1="311.00" x2="496.30" y2="311.00" stroke="#cfb466" stroke-width="0.8"/>
<line x1="507.70" y1="312.00" x2="507.70" y2="303.00" stroke="#cfb466" stroke-width="0.8"/>
<line x1="506.10" y1="303.00" x2="509.30" y2="303.00" stroke="#cfb466" stroke-width="0.8"/>
<line x1="506.10" y1="312.00" x2="509.30" y2="312.00" stroke="#cfb466" stroke-width="0.8"/>
<line x1="429.70" y1="314.00" x2="429.70" y2="307.00" stroke="#5e5a9a" stroke-width="0.8"/>
<line x1="428.10" y1="307.00" x2="431.30" y2="307.00" stroke="#5e5a9a" stroke-width="0.8"/>
<line x1="428.10" y1="314.00" x2="431.30" y2="314.00" stroke="#5e5a9a" stroke-width="0.8"/>
<line x1="442.70" y1="313.00" x2="442.70" y2="301.00" stroke="#5e5a9a" stroke-width="0.8"/>
<line x1="441.10" y1="301.00" x2="444.30" y2="301.00" stroke="#5e5a9a" stroke-width="0.8"/>
<line x1="441.10" y1="313.00" x2="444.30" y2="313.00" stroke="#5e5a9a" stroke-width="0.8"/>
<line x1="455.70" y1="312.00" x2="455.70" y2="289.00" stroke="#5e5a9a" stroke-width="0.8"/>
<line x1="454.10" y1="289.00" x2="457.30" y2="289.00" stroke="#5e5a9a" stroke-width="0.8"/>
<line x1="454.10" y1="312.00" x2="457.30" y2="312.00" stroke="#5e5a9a" stroke-width="0.8"/>
<line x1="468.70" y1="305.00" x2="468.70" y2="291.00" stroke="#5e5a9a" stroke-width="0.8"/>
<line x1="467.10" y1="291.00" x2="470.30" y2="291.00" stroke="#5e5a9a" stroke-width="0.8"/>
<line x1="467.10" y1="305.00" x2="470.30" y2="305.00" stroke="#5e5a9a" stroke-width="0.8"/>
<line x1="481.70" y1="305.00" x2="481.70" y2="274.00" stroke="#5e5a9a" stroke-width="0.8"/>
<line x1="480.10" y1="274.00" x2="483.30" y2="274.00" stroke="#5e5a9a" stroke-width="0.8"/>
<line x1="480.10" y1="305.00" x2="483.30" y2="305.00" stroke="#5e5a9a" stroke-width="0.8"/>
<line x1="494.70" y1="302.00" x2="494.70" y2="284.00" stroke="#5e5a9a" stroke-width="0.8"/>
<line x1="493.10" y1="284.00" x2="496.30" y2="284.00" stroke="#5e5a9a" stroke-width="0.8"/>
<line x1="493.10" y1="302.00" x2="496.30" y2="302.00" stroke="#5e5a9a" stroke-width="0.8"/>
<line x1="507.70" y1="300.00" x2="507.70" y2="270.00" stroke="#5e5a9a" stroke-width="0.8"/>
<line x1="506.10" y1="270.00" x2="509.30" y2="270.00" stroke="#5e5a9a" stroke-width="0.8"/>
<line x1="506.10" y1="300.00" x2="509.30" y2="300.00" stroke="#5e5a9a" stroke-width="0.8"/>
<polyline fill="none" stroke="#dcb53a" stroke-width="1" points="429.70,313.00 442.70,311.50 455.70,311.00 468.70,309.20 481.70,311.00 494.70,308.10 507.70,308.60"/>
<rect x="428.20" y="311.50" width="3.00" height="3.00" fill="#b8962c" stroke="none" stroke-width="0"/>
<rect x="441.20" y="310.00" width="3.00" height="3.00" fill="#b8962c" stroke="none" stroke-width="0"/>
<rect x="454.20" y="309.50" width="3.00" height="3.00" fill="#b8962c" stroke="none" stroke-width="0"/>
<rect x="467.20" y="307.70" width="3.00" height="3.00" fill="#b8962c" stroke="none" stroke-width="0"/>
<rect x="480.20" y="309.50" width="3.00" height="3.00" fill="#b8962c" stroke="none" stroke-width="0"/>
<rect x="493.20" y="306.60" width="3.00" height="3.00" fill="#b8962c" stroke="none" stroke-width="0"/>
<rect x="506.20" y="307.10" width="3.00" height="3.00" fill="#b8962c" stroke="none" stroke-width="0"/>
<polyline fill="none" stroke="#2e2672" stroke-width="1" points="429.70,312.10 442.70,310.40 455.70,307.80 468.70,299.10 481.70,295.70 494.70,295.70 507.70,287.90"/>
<circle cx="429.70" cy="312.10" r="1.7" fill="#231a66"/>
<circle cx="442.70" cy="310.40" r="1.7" fill="#231a66"/>
<circle cx="455.70" cy="307.80" r="1.7" fill="#231a66"/>
<circle cx="468.70" cy="299.10" r="1.7" fill="#231a66"/>
<circle cx="481.70" cy="295.70" r="1.7" fill="#231a66"/>
<circle cx="494.70" cy="295.70" r="1.7" fill="#231a66"/>
<circle cx="507.70" cy="287.90" r="1.7" fill="#231a66"/>
<line x1="425.40" y1="314.90" x2="425.40" y2="249.90" stroke="#222" stroke-width="1.2"/>
<line x1="424.90" y1="314.40" x2="510.00" y2="314.40" stroke="#222" stroke-width="1.2"/>
<line x1="429.70" y1="314.40" x2="429.70" y2="316.80" stroke="#222" stroke-width="0.9"/>
<line x1="442.70" y1="314.40" x2="442.70" y2="316.80" stroke="#222" stroke-width="0.9"/>
<line x1="455.70" y1="314.40" x2="455.70" y2="316.80" stroke="#222" stroke-width="0.9"/>
<line x1="468.70" y1="314.40" x2="468.70" y2="316.80" stroke="#222" stroke-width="0.9"/>
<line x1="481.70" y1="314.40" x2="481.70" y2="316.80" stroke="#222" stroke-width="0.9"/>
<line x1="494.70" y1="314.40" x2="494.70" y2="316.80" stroke="#222" stroke-width="0.9"/>
<line x1="507.70" y1="314.40" x2="507.70" y2="316.80" stroke="#222" stroke-width="0.9"/>
<text x="429.70" y="326.30" font-size="6.5" text-anchor="middle" fill="#2a2a2a" stroke="#2a2a2a" stroke-width="0.22" font-weight="normal">90</text>
<text x="442.70" y="326.30" font-size="6.5" text-anchor="middle" fill="#2a2a2a" stroke="#2a2a2a" stroke-width="0.22" font-weight="normal">120</text>
<text x="455.70" y="326.30" font-size="6.5" text-anchor="middle" fill="#2a2a2a" stroke="#2a2a2a" stroke-width="0.22" font-weight="normal">150</text>
<text x="468.70" y="326.30" font-size="6.5" text-anchor="middle" fill="#2a2a2a" stroke="#2a2a2a" stroke-width="0.22" font-weight="normal">180</text>
<text x="481.70" y="326.30" font-size="6.5" text-anchor="middle" fill="#2a2a2a" stroke="#2a2a2a" stroke-width="0.22" font-weight="normal">210</text>
<text x="494.70" y="326.30" font-size="6.5" text-anchor="middle" fill="#2a2a2a" stroke="#2a2a2a" stroke-width="0.22" font-weight="normal">240</text>
<text x="507.70" y="326.30" font-size="6.5" text-anchor="middle" fill="#2a2a2a" stroke="#2a2a2a" stroke-width="0.22" font-weight="normal">270</text>
<text x="465.60" y="245.20" font-size="9.0" text-anchor="middle" fill="#222" stroke="#222" stroke-width="0.22"><tspan>CD159c</tspan><tspan dy="-3.70" font-size="5.76">++</tspan><tspan dy="3.70">CD57</tspan><tspan dy="-3.70" font-size="5.76">+</tspan></text>
<circle cx="468.60" cy="249.80" r="0.6" fill="#b0b0b0"/>
<circle cx="480.35" cy="249.80" r="0.75" fill="#333"/>
<circle cx="482.85" cy="249.80" r="0.75" fill="#333"/>
<circle cx="507.60" cy="249.80" r="0.75" fill="#333"/>
<line x1="505.50" y1="262.00" x2="509.50" y2="262.00" stroke="#666" stroke-width="0.9"/>
<text x="6.90" y="352.80" font-size="11.6" text-anchor="start" fill="#000" stroke="#000" stroke-width="0.22" font-weight="bold">E</text>
<rect x="47.40" y="367.50" width="7.20" height="60.80" fill="#f8c98e" stroke="none" stroke-width="0"/>
<line x1="55.20" y1="367.80" x2="55.20" y2="428.30" stroke="#2a2010" stroke-width="1.2" stroke-dasharray="1.9 2.4"/>
<line x1="51.30" y1="427.00" x2="51.30" y2="419.00" stroke="#cfb466" stroke-width="0.8"/>
<line x1="49.70" y1="419.00" x2="52.90" y2="419.00" stroke="#cfb466" stroke-width="0.8"/>
<line x1="49.70" y1="427.00" x2="52.90" y2="427.00" stroke="#cfb466" stroke-width="0.8"/>
<line x1="64.30" y1="426.00" x2="64.30" y2="418.00" stroke="#cfb466" stroke-width="0.8"/>
<line x1="62.70" y1="418.00" x2="65.90" y2="418.00" stroke="#cfb466" stroke-width="0.8"/>
<line x1="62.70" y1="426.00" x2="65.90" y2="426.00" stroke="#cfb466" stroke-width="0.8"/>
<line x1="77.30" y1="426.00" x2="77.30" y2="417.00" stroke="#cfb466" stroke-width="0.8"/>
<line x1="75.70" y1="417.00" x2="78.90" y2="417.00" stroke="#cfb466" stroke-width="0.8"/>
<line x1="75.70" y1="426.00" x2="78.90" y2="426.00" stroke="#cfb466" stroke-width="0.8"/>
<line x1="90.30" y1="427.00" x2="90.30" y2="418.00" stroke="#cfb466" stroke-width="0.8"/>
<line x1="88.70" y1="418.00" x2="91.90" y2="418.00" stroke="#cfb466" stroke-width="0.8"/>
<line x1="88.70" y1="427.00" x2="91.90" y2="427.00" stroke="#cfb466" stroke-width="0.8"/>
<line x1="103.30" y1="425.00" x2="103.30" y2="414.00" stroke="#cfb466" stroke-width="0.8"/>
<line x1="101.70" y1="414.00" x2="104.90" y2="414.00" stroke="#cfb466" stroke-width="0.8"/>
<line x1="101.70" y1="425.00" x2="104.90" y2="425.00" stroke="#cfb466" stroke-width="0.8"/>
<line x1="116.30" y1="424.00" x2="116.30" y2="413.00" stroke="#cfb466" stroke-width="0.8"/>
<line x1="114.70" y1="413.00" x2="117.90" y2="413.00" stroke="#cfb466" stroke-width="0.8"/>
<line x1="114.70" y1="424.00" x2="117.90" y2="424.00" stroke="#cfb466" stroke-width="0.8"/>
<line x1="129.30" y1="424.00" x2="129.30" y2="414.00" stroke="#cfb466" stroke-width="0.8"/>
<line x1="127.70" y1="414.00" x2="130.90" y2="414.00" stroke="#cfb466" stroke-width="0.8"/>
<line x1="127.70" y1="424.00" x2="130.90" y2="424.00" stroke="#cfb466" stroke-width="0.8"/>
<line x1="51.30" y1="428.00" x2="51.30" y2="414.50" stroke="#5e5a9a" stroke-width="0.8"/>
<line x1="49.70" y1="414.50" x2="52.90" y2="414.50" stroke="#5e5a9a" stroke-width="0.8"/>
<line x1="49.70" y1="428.00" x2="52.90" y2="428.00" stroke="#5e5a9a" stroke-width="0.8"/>
<line x1="64.30" y1="426.00" x2="64.30" y2="410.50" stroke="#5e5a9a" stroke-width="0.8"/>
<line x1="62.70" y1="410.50" x2="65.90" y2="410.50" stroke="#5e5a9a" stroke-width="0.8"/>
<line x1="62.70" y1="426.00" x2="65.90" y2="426.00" stroke="#5e5a9a" stroke-width="0.8"/>
<line x1="77.30" y1="422.00" x2="77.30" y2="407.50" stroke="#5e5a9a" stroke-width="0.8"/>
<line x1="75.70" y1="407.50" x2="78.90" y2="407.50" stroke="#5e5a9a" stroke-width="0.8"/>
<line x1="75.70" y1="422.00" x2="78.90" y2="422.00" stroke="#5e5a9a" stroke-width="0.8"/>
<line x1="90.30" y1="420.00" x2="90.30" y2="398.80" stroke="#5e5a9a" stroke-width="0.8"/>
<line x1="88.70" y1="398.80" x2="91.90" y2="398.80" stroke="#5e5a9a" stroke-width="0.8"/>
<line x1="88.70" y1="420.00" x2="91.90" y2="420.00" stroke="#5e5a9a" stroke-width="0.8"/>
<line x1="103.30" y1="415.00" x2="103.30" y2="389.50" stroke="#5e5a9a" stroke-width="0.8"/>
<line x1="101.70" y1="389.50" x2="104.90" y2="389.50" stroke="#5e5a9a" stroke-width="0.8"/>
<line x1="101.70" y1="415.00" x2="104.90" y2="415.00" stroke="#5e5a9a" stroke-width="0.8"/>
<line x1="116.30" y1="418.00" x2="116.30" y2="392.00" stroke="#5e5a9a" stroke-width="0.8"/>
<line x1="114.70" y1="392.00" x2="117.90" y2="392.00" stroke="#5e5a9a" stroke-width="0.8"/>
<line x1="114.70" y1="418.00" x2="117.90" y2="418.00" stroke="#5e5a9a" stroke-width="0.8"/>
<line x1="129.30" y1="418.00" x2="129.30" y2="393.00" stroke="#5e5a9a" stroke-width="0.8"/>
<line x1="127.70" y1="393.00" x2="130.90" y2="393.00" stroke="#5e5a9a" stroke-width="0.8"/>
<line x1="127.70" y1="418.00" x2="130.90" y2="418.00" stroke="#5e5a9a" stroke-width="0.8"/>
<polyline fill="none" stroke="#dcb53a" stroke-width="1" points="51.30,423.30 64.30,422.50 77.30,422.00 90.30,423.30 103.30,420.00 116.30,418.00 129.30,418.70"/>
<rect x="49.80" y="421.80" width="3.00" height="3.00" fill="#b8962c" stroke="none" stroke-width="0"/>
<rect x="62.80" y="421.00" width="3.00" height="3.00" fill="#b8962c" stroke="none" stroke-width="0"/>
<rect x="75.80" y="420.50" width="3.00" height="3.00" fill="#b8962c" stroke="none" stroke-width="0"/>
<rect x="88.80" y="421.80" width="3.00" height="3.00" fill="#b8962c" stroke="none" stroke-width="0"/>
<rect x="101.80" y="418.50" width="3.00" height="3.00" fill="#b8962c" stroke="none" stroke-width="0"/>
<rect x="114.80" y="416.50" width="3.00" height="3.00" fill="#b8962c" stroke="none" stroke-width="0"/>
<rect x="127.80" y="417.20" width="3.00" height="3.00" fill="#b8962c" stroke="none" stroke-width="0"/>
<polyline fill="none" stroke="#2e2672" stroke-width="1" points="51.30,423.80 64.30,420.00 77.30,415.00 90.30,410.50 103.30,405.00 116.30,408.70 129.30,408.00"/>
<circle cx="51.30" cy="423.80" r="1.7" fill="#231a66"/>
<circle cx="64.30" cy="420.00" r="1.7" fill="#231a66"/>
<circle cx="77.30" cy="415.00" r="1.7" fill="#231a66"/>
<circle cx="90.30" cy="410.50" r="1.7" fill="#231a66"/>
<circle cx="103.30" cy="405.00" r="1.7" fill="#231a66"/>
<circle cx="116.30" cy="408.70" r="1.7" fill="#231a66"/>
<circle cx="129.30" cy="408.00" r="1.7" fill="#231a66"/>
<line x1="46.80" y1="428.80" x2="46.80" y2="364.30" stroke="#222" stroke-width="1.2"/>
<line x1="44.20" y1="428.30" x2="132.00" y2="428.30" stroke="#222" stroke-width="1.2"/>
<line x1="44.20" y1="428.30" x2="46.80" y2="428.30" stroke="#222" stroke-width="0.9"/>
<text x="40.20" y="430.60" font-size="6.5" text-anchor="end" fill="#2a2a2a" stroke="#2a2a2a" stroke-width="0.22" font-weight="normal">0</text>
<line x1="44.20" y1="413.20" x2="46.80" y2="413.20" stroke="#222" stroke-width="0.9"/>
<text x="40.20" y="415.50" font-size="6.5" text-anchor="end" fill="#2a2a2a" stroke="#2a2a2a" stroke-width="0.22" font-weight="normal">15</text>
<line x1="44.20" y1="398.00" x2="46.80" y2="398.00" stroke="#222" stroke-width="0.9"/>
<text x="40.20" y="400.30" font-size="6.5" text-anchor="end" fill="#2a2a2a" stroke="#2a2a2a" stroke-width="0.22" font-weight="normal">30</text>
<line x1="44.20" y1="382.90" x2="46.80" y2="382.90" stroke="#222" stroke-width="0.9"/>
<text x="40.20" y="385.20" font-size="6.5" text-anchor="end" fill="#2a2a2a" stroke="#2a2a2a" stroke-width="0.22" font-weight="normal">45</text>
<line x1="44.20" y1="367.70" x2="46.80" y2="367.70" stroke="#222" stroke-width="0.9"/>
<text x="40.20" y="370.00" font-size="6.5" text-anchor="end" fill="#2a2a2a" stroke="#2a2a2a" stroke-width="0.22" font-weight="normal">60</text>
<line x1="51.30" y1="428.30" x2="51.30" y2="430.70" stroke="#222" stroke-width="0.9"/>
<line x1="64.30" y1="428.30" x2="64.30" y2="430.70" stroke="#222" stroke-width="0.9"/>
<line x1="77.30" y1="428.30" x2="77.30" y2="430.70" stroke="#222" stroke-width="0.9"/>
<line x1="90.30" y1="428.30" x2="90.30" y2="430.70" stroke="#222" stroke-width="0.9"/>
<line x1="103.30" y1="428.30" x2="103.30" y2="430.70" stroke="#222" stroke-width="0.9"/>
<line x1="116.30" y1="428.30" x2="116.30" y2="430.70" stroke="#222" stroke-width="0.9"/>
<line x1="129.30" y1="428.30" x2="129.30" y2="430.70" stroke="#222" stroke-width="0.9"/>
<text x="51.30" y="439.60" font-size="6.5" text-anchor="middle" fill="#2a2a2a" stroke="#2a2a2a" stroke-width="0.22" font-weight="normal">90</text>
<text x="64.30" y="439.60" font-size="6.5" text-anchor="middle" fill="#2a2a2a" stroke="#2a2a2a" stroke-width="0.22" font-weight="normal">120</text>
<text x="77.30" y="439.60" font-size="6.5" text-anchor="middle" fill="#2a2a2a" stroke="#2a2a2a" stroke-width="0.22" font-weight="normal">150</text>
<text x="90.30" y="439.60" font-size="6.5" text-anchor="middle" fill="#2a2a2a" stroke="#2a2a2a" stroke-width="0.22" font-weight="normal">180</text>
<text x="103.30" y="439.60" font-size="6.5" text-anchor="middle" fill="#2a2a2a" stroke="#2a2a2a" stroke-width="0.22" font-weight="normal">210</text>
<text x="116.30" y="439.60" font-size="6.5" text-anchor="middle" fill="#2a2a2a" stroke="#2a2a2a" stroke-width="0.22" font-weight="normal">240</text>
<text x="129.30" y="439.60" font-size="6.5" text-anchor="middle" fill="#2a2a2a" stroke="#2a2a2a" stroke-width="0.22" font-weight="normal">270</text>
<text x="39.30" y="439.60" font-size="6.5" text-anchor="middle" fill="#2a2a2a" stroke="#2a2a2a" stroke-width="0.22" font-weight="normal">day</text>
<text x="88.20" y="359.30" font-size="9.0" text-anchor="middle" fill="#222" stroke="#222" stroke-width="0.22"><tspan>CD159c</tspan><tspan dy="-3.70" font-size="5.76">++</tspan></text>
<circle cx="77.50" cy="363.20" r="0.6" fill="#b0b0b0"/>
<circle cx="90.50" cy="363.20" r="0.6" fill="#b0b0b0"/>
<circle cx="102.05" cy="363.20" r="0.75" fill="#333"/>
<circle cx="104.55" cy="363.20" r="0.75" fill="#333"/>
<text x="0.00" y="0.00" font-size="7.0" text-anchor="middle" fill="#111" stroke="#111" stroke-width="0.34" transform="translate(26.50 397.50) rotate(-90) scale(0.87 1)"><tspan>CD56</tspan><tspan dy="-2.80" font-size="3.85">dim</tspan><tspan dy="2.80">/CD56</tspan><tspan dy="-2.80" font-size="3.85">+</tspan><tspan dy="2.80">CD3</tspan><tspan dy="-2.80" font-size="3.85">−</tspan><tspan dy="2.80"> (%)</tspan></text>
<rect x="158.30" y="367.50" width="8.20" height="60.70" fill="#f8c98e" stroke="none" stroke-width="0"/>
<line x1="167.10" y1="367.80" x2="167.10" y2="428.20" stroke="#2a2010" stroke-width="1.2" stroke-dasharray="1.9 2.4"/>
<line x1="161.20" y1="428.00" x2="161.20" y2="423.00" stroke="#cfb466" stroke-width="0.8"/>
<line x1="159.60" y1="423.00" x2="162.80" y2="423.00" stroke="#cfb466" stroke-width="0.8"/>
<line x1="159.60" y1="428.00" x2="162.80" y2="428.00" stroke="#cfb466" stroke-width="0.8"/>
<line x1="174.30" y1="428.00" x2="174.30" y2="422.00" stroke="#cfb466" stroke-width="0.8"/>
<line x1="172.70" y1="422.00" x2="175.90" y2="422.00" stroke="#cfb466" stroke-width="0.8"/>
<line x1="172.70" y1="428.00" x2="175.90" y2="428.00" stroke="#cfb466" stroke-width="0.8"/>
<line x1="187.40" y1="427.00" x2="187.40" y2="421.00" stroke="#cfb466" stroke-width="0.8"/>
<line x1="185.80" y1="421.00" x2="189.00" y2="421.00" stroke="#cfb466" stroke-width="0.8"/>
<line x1="185.80" y1="427.00" x2="189.00" y2="427.00" stroke="#cfb466" stroke-width="0.8"/>
<line x1="200.50" y1="427.00" x2="200.50" y2="421.00" stroke="#cfb466" stroke-width="0.8"/>
<line x1="198.90" y1="421.00" x2="202.10" y2="421.00" stroke="#cfb466" stroke-width="0.8"/>
<line x1="198.90" y1="427.00" x2="202.10" y2="427.00" stroke="#cfb466" stroke-width="0.8"/>
<line x1="213.60" y1="427.00" x2="213.60" y2="419.00" stroke="#cfb466" stroke-width="0.8"/>
<line x1="212.00" y1="419.00" x2="215.20" y2="419.00" stroke="#cfb466" stroke-width="0.8"/>
<line x1="212.00" y1="427.00" x2="215.20" y2="427.00" stroke="#cfb466" stroke-width="0.8"/>
<line x1="226.70" y1="426.00" x2="226.70" y2="418.00" stroke="#cfb466" stroke-width="0.8"/>
<line x1="225.10" y1="418.00" x2="228.30" y2="418.00" stroke="#cfb466" stroke-width="0.8"/>
<line x1="225.10" y1="426.00" x2="228.30" y2="426.00" stroke="#cfb466" stroke-width="0.8"/>
<line x1="239.80" y1="426.00" x2="239.80" y2="418.00" stroke="#cfb466" stroke-width="0.8"/>
<line x1="238.20" y1="418.00" x2="241.40" y2="418.00" stroke="#cfb466" stroke-width="0.8"/>
<line x1="238.20" y1="426.00" x2="241.40" y2="426.00" stroke="#cfb466" stroke-width="0.8"/>
<line x1="161.20" y1="428.00" x2="161.20" y2="418.00" stroke="#5e5a9a" stroke-width="0.8"/>
<line x1="159.60" y1="418.00" x2="162.80" y2="418.00" stroke="#5e5a9a" stroke-width="0.8"/>
<line x1="159.60" y1="428.00" x2="162.80" y2="428.00" stroke="#5e5a9a" stroke-width="0.8"/>
<line x1="174.30" y1="427.00" x2="174.30" y2="414.00" stroke="#5e5a9a" stroke-width="0.8"/>
<line x1="172.70" y1="414.00" x2="175.90" y2="414.00" stroke="#5e5a9a" stroke-width="0.8"/>
<line x1="172.70" y1="427.00" x2="175.90" y2="427.00" stroke="#5e5a9a" stroke-width="0.8"/>
<line x1="187.40" y1="424.00" x2="187.40" y2="413.00" stroke="#5e5a9a" stroke-width="0.8"/>
<line x1="185.80" y1="413.00" x2="189.00" y2="413.00" stroke="#5e5a9a" stroke-width="0.8"/>
<line x1="185.80" y1="424.00" x2="189.00" y2="424.00" stroke="#5e5a9a" stroke-width="0.8"/>
<line x1="200.50" y1="422.00" x2="200.50" y2="408.00" stroke="#5e5a9a" stroke-width="0.8"/>
<line x1="198.90" y1="408.00" x2="202.10" y2="408.00" stroke="#5e5a9a" stroke-width="0.8"/>
<line x1="198.90" y1="422.00" x2="202.10" y2="422.00" stroke="#5e5a9a" stroke-width="0.8"/>
<line x1="213.60" y1="418.00" x2="213.60" y2="396.00" stroke="#5e5a9a" stroke-width="0.8"/>
<line x1="212.00" y1="396.00" x2="215.20" y2="396.00" stroke="#5e5a9a" stroke-width="0.8"/>
<line x1="212.00" y1="418.00" x2="215.20" y2="418.00" stroke="#5e5a9a" stroke-width="0.8"/>
<line x1="226.70" y1="421.00" x2="226.70" y2="400.00" stroke="#5e5a9a" stroke-width="0.8"/>
<line x1="225.10" y1="400.00" x2="228.30" y2="400.00" stroke="#5e5a9a" stroke-width="0.8"/>
<line x1="225.10" y1="421.00" x2="228.30" y2="421.00" stroke="#5e5a9a" stroke-width="0.8"/>
<line x1="239.80" y1="422.00" x2="239.80" y2="399.00" stroke="#5e5a9a" stroke-width="0.8"/>
<line x1="238.20" y1="399.00" x2="241.40" y2="399.00" stroke="#5e5a9a" stroke-width="0.8"/>
<line x1="238.20" y1="422.00" x2="241.40" y2="422.00" stroke="#5e5a9a" stroke-width="0.8"/>
<polyline fill="none" stroke="#dcb53a" stroke-width="1" points="161.20,425.70 174.30,425.40 187.40,424.50 200.50,424.80 213.60,423.60 226.70,422.50 239.80,422.80"/>
<rect x="159.70" y="424.20" width="3.00" height="3.00" fill="#b8962c" stroke="none" stroke-width="0"/>
<rect x="172.80" y="423.90" width="3.00" height="3.00" fill="#b8962c" stroke="none" stroke-width="0"/>
<rect x="185.90" y="423.00" width="3.00" height="3.00" fill="#b8962c" stroke="none" stroke-width="0"/>
<rect x="199.00" y="423.30" width="3.00" height="3.00" fill="#b8962c" stroke="none" stroke-width="0"/>
<rect x="212.10" y="422.10" width="3.00" height="3.00" fill="#b8962c" stroke="none" stroke-width="0"/>
<rect x="225.20" y="421.00" width="3.00" height="3.00" fill="#b8962c" stroke="none" stroke-width="0"/>
<rect x="238.30" y="421.30" width="3.00" height="3.00" fill="#b8962c" stroke="none" stroke-width="0"/>
<polyline fill="none" stroke="#2e2672" stroke-width="1" points="161.20,425.10 174.30,422.80 187.40,419.30 200.50,417.00 213.60,409.80 226.70,413.80 239.80,415.00"/>
<circle cx="161.20" cy="425.10" r="1.7" fill="#231a66"/>
<circle cx="174.30" cy="422.80" r="1.7" fill="#231a66"/>
<circle cx="187.40" cy="419.30" r="1.7" fill="#231a66"/>
<circle cx="200.50" cy="417.00" r="1.7" fill="#231a66"/>
<circle cx="213.60" cy="409.80" r="1.7" fill="#231a66"/>
<circle cx="226.70" cy="413.80" r="1.7" fill="#231a66"/>
<circle cx="239.80" cy="415.00" r="1.7" fill="#231a66"/>
<line x1="157.70" y1="428.70" x2="157.70" y2="364.10" stroke="#222" stroke-width="1.2"/>
<line x1="157.20" y1="428.20" x2="243.30" y2="428.20" stroke="#222" stroke-width="1.2"/>
<line x1="161.20" y1="428.20" x2="161.20" y2="430.60" stroke="#222" stroke-width="0.9"/>
<line x1="174.30" y1="428.20" x2="174.30" y2="430.60" stroke="#222" stroke-width="0.9"/>
<line x1="187.40" y1="428.20" x2="187.40" y2="430.60" stroke="#222" stroke-width="0.9"/>
<line x1="200.50" y1="428.20" x2="200.50" y2="430.60" stroke="#222" stroke-width="0.9"/>
<line x1="213.60" y1="428.20" x2="213.60" y2="430.60" stroke="#222" stroke-width="0.9"/>
<line x1="226.70" y1="428.20" x2="226.70" y2="430.60" stroke="#222" stroke-width="0.9"/>
<line x1="239.80" y1="428.20" x2="239.80" y2="430.60" stroke="#222" stroke-width="0.9"/>
<text x="161.20" y="439.60" font-size="6.5" text-anchor="middle" fill="#2a2a2a" stroke="#2a2a2a" stroke-width="0.22" font-weight="normal">90</text>
<text x="174.30" y="439.60" font-size="6.5" text-anchor="middle" fill="#2a2a2a" stroke="#2a2a2a" stroke-width="0.22" font-weight="normal">120</text>
<text x="187.40" y="439.60" font-size="6.5" text-anchor="middle" fill="#2a2a2a" stroke="#2a2a2a" stroke-width="0.22" font-weight="normal">150</text>
<text x="200.50" y="439.60" font-size="6.5" text-anchor="middle" fill="#2a2a2a" stroke="#2a2a2a" stroke-width="0.22" font-weight="normal">180</text>
<text x="213.60" y="439.60" font-size="6.5" text-anchor="middle" fill="#2a2a2a" stroke="#2a2a2a" stroke-width="0.22" font-weight="normal">210</text>
<text x="226.70" y="439.60" font-size="6.5" text-anchor="middle" fill="#2a2a2a" stroke="#2a2a2a" stroke-width="0.22" font-weight="normal">240</text>
<text x="239.80" y="439.60" font-size="6.5" text-anchor="middle" fill="#2a2a2a" stroke="#2a2a2a" stroke-width="0.22" font-weight="normal">270</text>
<text x="198.20" y="358.80" font-size="9.0" text-anchor="middle" fill="#222" stroke="#222" stroke-width="0.22"><tspan>CD159c</tspan><tspan dy="-3.70" font-size="5.76">++</tspan><tspan dy="3.70">CD57</tspan><tspan dy="-3.70" font-size="5.76">+</tspan></text>
<circle cx="187.40" cy="363.20" r="0.6" fill="#b0b0b0"/>
<circle cx="212.75" cy="363.20" r="0.75" fill="#333"/>
<circle cx="215.25" cy="363.20" r="0.75" fill="#333"/>
<text x="268.50" y="352.80" font-size="11.6" text-anchor="start" fill="#000" stroke="#000" stroke-width="0.22" font-weight="bold">F</text>
<line x1="312.00" y1="432.80" x2="312.00" y2="369.50" stroke="#222" stroke-width="1.1"/>
<line x1="311.50" y1="432.30" x2="342.80" y2="432.30" stroke="#222" stroke-width="1.1"/>
<line x1="309.40" y1="432.30" x2="312.00" y2="432.30" stroke="#222" stroke-width="0.9"/>
<text x="305.40" y="434.60" font-size="6.5" text-anchor="end" fill="#2a2a2a" stroke="#2a2a2a" stroke-width="0.22" font-weight="normal">0</text>
<line x1="309.40" y1="417.30" x2="312.00" y2="417.30" stroke="#222" stroke-width="0.9"/>
<text x="305.40" y="419.60" font-size="6.5" text-anchor="end" fill="#2a2a2a" stroke="#2a2a2a" stroke-width="0.22" font-weight="normal">150</text>
<line x1="309.40" y1="402.40" x2="312.00" y2="402.40" stroke="#222" stroke-width="0.9"/>
<text x="305.40" y="404.70" font-size="6.5" text-anchor="end" fill="#2a2a2a" stroke="#2a2a2a" stroke-width="0.22" font-weight="normal">300</text>
<line x1="309.40" y1="387.40" x2="312.00" y2="387.40" stroke="#222" stroke-width="0.9"/>
<text x="305.40" y="389.70" font-size="6.5" text-anchor="end" fill="#2a2a2a" stroke="#2a2a2a" stroke-width="0.22" font-weight="normal">450</text>
<line x1="309.40" y1="372.40" x2="312.00" y2="372.40" stroke="#222" stroke-width="0.9"/>
<text x="305.40" y="374.70" font-size="6.5" text-anchor="end" fill="#2a2a2a" stroke="#2a2a2a" stroke-width="0.22" font-weight="normal">600</text>
<line x1="347.50" y1="430.80" x2="347.50" y2="367.00" stroke="#333" stroke-width="1.3" stroke-dasharray="1.3 2.9"/>
<line x1="347.50" y1="432.30" x2="379.30" y2="432.30" stroke="#222" stroke-width="1.1"/>
<line x1="321.30" y1="432.30" x2="321.30" y2="434.70" stroke="#222" stroke-width="0.9"/>
<line x1="333.30" y1="432.30" x2="333.30" y2="434.70" stroke="#222" stroke-width="0.9"/>
<line x1="357.30" y1="432.30" x2="357.30" y2="434.70" stroke="#222" stroke-width="0.9"/>
<line x1="369.00" y1="432.30" x2="369.00" y2="434.70" stroke="#222" stroke-width="0.9"/>
<line x1="321.30" y1="417.90" x2="333.30" y2="379.50" stroke="#d0d0e2" stroke-width="0.7"/>
<line x1="321.30" y1="424.20" x2="333.30" y2="403.50" stroke="#d0d0e2" stroke-width="0.7"/>
<line x1="321.30" y1="425.80" x2="333.30" y2="408.10" stroke="#d0d0e2" stroke-width="0.7"/>
<line x1="321.30" y1="427.30" x2="333.30" y2="410.40" stroke="#d0d0e2" stroke-width="0.7"/>
<line x1="321.30" y1="428.80" x2="333.30" y2="417.30" stroke="#d0d0e2" stroke-width="0.7"/>
<line x1="321.30" y1="430.20" x2="333.30" y2="418.80" stroke="#d0d0e2" stroke-width="0.7"/>
<line x1="321.30" y1="431.00" x2="333.30" y2="423.10" stroke="#d0d0e2" stroke-width="0.7"/>
<line x1="321.30" y1="431.60" x2="333.30" y2="424.60" stroke="#d0d0e2" stroke-width="0.7"/>
<line x1="321.30" y1="432.00" x2="333.30" y2="427.30" stroke="#d0d0e2" stroke-width="0.7"/>
<line x1="357.30" y1="419.60" x2="369.00" y2="413.50" stroke="#d0d4e2" stroke-width="0.7"/>
<line x1="357.30" y1="421.80" x2="369.00" y2="416.00" stroke="#d0d4e2" stroke-width="0.7"/>
<line x1="357.30" y1="424.00" x2="369.00" y2="418.50" stroke="#d0d4e2" stroke-width="0.7"/>
<line x1="357.30" y1="426.20" x2="369.00" y2="419.60" stroke="#d0d4e2" stroke-width="0.7"/>
<line x1="357.30" y1="428.40" x2="369.00" y2="425.00" stroke="#d0d4e2" stroke-width="0.7"/>
<line x1="357.30" y1="430.60" x2="369.00" y2="427.20" stroke="#d0d4e2" stroke-width="0.7"/>
<line x1="357.30" y1="431.50" x2="369.00" y2="429.40" stroke="#d0d4e2" stroke-width="0.7"/>
<line x1="357.30" y1="431.50" x2="369.00" y2="431.00" stroke="#d0d4e2" stroke-width="0.7"/>
<circle cx="321.30" cy="417.90" r="1.8" fill="#27196e"/>
<circle cx="333.30" cy="379.50" r="1.8" fill="#27196e"/>
<circle cx="321.30" cy="424.20" r="1.8" fill="#27196e"/>
<circle cx="333.30" cy="403.50" r="1.8" fill="#27196e"/>
<circle cx="321.30" cy="425.80" r="1.8" fill="#27196e"/>
<circle cx="333.30" cy="408.10" r="1.8" fill="#27196e"/>
<circle cx="321.30" cy="427.30" r="1.8" fill="#27196e"/>
<circle cx="333.30" cy="410.40" r="1.8" fill="#27196e"/>
<circle cx="321.30" cy="428.80" r="1.8" fill="#27196e"/>
<circle cx="333.30" cy="417.30" r="1.8" fill="#27196e"/>
<circle cx="321.30" cy="430.20" r="1.8" fill="#27196e"/>
<circle cx="333.30" cy="418.80" r="1.8" fill="#27196e"/>
<circle cx="321.30" cy="431.00" r="1.8" fill="#27196e"/>
<circle cx="333.30" cy="423.10" r="1.8" fill="#27196e"/>
<circle cx="321.30" cy="431.60" r="1.8" fill="#27196e"/>
<circle cx="333.30" cy="424.60" r="1.8" fill="#27196e"/>
<circle cx="321.30" cy="432.00" r="1.8" fill="#27196e"/>
<circle cx="333.30" cy="427.30" r="1.8" fill="#27196e"/>
<rect x="355.60" y="417.90" width="3.40" height="3.40" fill="#cc9a2a" stroke="#a87a1c" stroke-width="0.4"/>
<rect x="367.30" y="411.80" width="3.40" height="3.40" fill="#cc9a2a" stroke="#a87a1c" stroke-width="0.4"/>
<rect x="355.60" y="420.10" width="3.40" height="3.40" fill="#cc9a2a" stroke="#a87a1c" stroke-width="0.4"/>
<rect x="367.30" y="414.30" width="3.40" height="3.40" fill="#cc9a2a" stroke="#a87a1c" stroke-width="0.4"/>
<rect x="355.60" y="422.30" width="3.40" height="3.40" fill="#cc9a2a" stroke="#a87a1c" stroke-width="0.4"/>
<rect x="367.30" y="416.80" width="3.40" height="3.40" fill="#cc9a2a" stroke="#a87a1c" stroke-width="0.4"/>
<rect x="355.60" y="424.50" width="3.40" height="3.40" fill="#cc9a2a" stroke="#a87a1c" stroke-width="0.4"/>
<rect x="367.30" y="417.90" width="3.40" height="3.40" fill="#cc9a2a" stroke="#a87a1c" stroke-width="0.4"/>
<rect x="355.60" y="426.70" width="3.40" height="3.40" fill="#cc9a2a" stroke="#a87a1c" stroke-width="0.4"/>
<rect x="367.30" y="423.30" width="3.40" height="3.40" fill="#cc9a2a" stroke="#a87a1c" stroke-width="0.4"/>
<rect x="355.60" y="428.90" width="3.40" height="3.40" fill="#cc9a2a" stroke="#a87a1c" stroke-width="0.4"/>
<rect x="367.30" y="425.50" width="3.40" height="3.40" fill="#cc9a2a" stroke="#a87a1c" stroke-width="0.4"/>
<rect x="355.60" y="429.80" width="3.40" height="3.40" fill="#cc9a2a" stroke="#a87a1c" stroke-width="0.4"/>
<rect x="367.30" y="427.70" width="3.40" height="3.40" fill="#cc9a2a" stroke="#a87a1c" stroke-width="0.4"/>
<rect x="355.60" y="429.80" width="3.40" height="3.40" fill="#cc9a2a" stroke="#a87a1c" stroke-width="0.4"/>
<rect x="367.30" y="429.30" width="3.40" height="3.40" fill="#cc9a2a" stroke="#a87a1c" stroke-width="0.4"/>
<line x1="321.30" y1="366.80" x2="333.30" y2="366.80" stroke="#444" stroke-width="1.0"/>
<circle cx="326.05" cy="363.20" r="0.75" fill="#333"/>
<circle cx="328.55" cy="363.20" r="0.75" fill="#333"/>
<line x1="357.30" y1="366.80" x2="369.00" y2="366.80" stroke="#444" stroke-width="1.0"/>
<text x="363.15" y="365.20" font-size="6.4" text-anchor="middle" fill="#444" stroke="#444" stroke-width="0.22" font-weight="normal">ns</text>
<text x="321.30" y="444.40" font-size="6.5" text-anchor="middle" fill="#2a2a2a" stroke="#2a2a2a" stroke-width="0.22" font-weight="normal">90</text>
<text x="333.30" y="444.40" font-size="6.5" text-anchor="middle" fill="#2a2a2a" stroke="#2a2a2a" stroke-width="0.22" font-weight="normal">210</text>
<text x="357.30" y="444.40" font-size="6.5" text-anchor="middle" fill="#2a2a2a" stroke="#2a2a2a" stroke-width="0.22" font-weight="normal">90</text>
<text x="369.00" y="444.40" font-size="6.5" text-anchor="middle" fill="#2a2a2a" stroke="#2a2a2a" stroke-width="0.22" font-weight="normal">210</text>
<text x="304.00" y="444.40" font-size="6.5" text-anchor="middle" fill="#2a2a2a" stroke="#2a2a2a" stroke-width="0.22" font-weight="normal">day</text>
<text x="0.00" y="0.00" font-size="7.0" text-anchor="middle" fill="#111" stroke="#111" stroke-width="0.34" transform="translate(289.50 401.60) rotate(-90) scale(0.87 1)"><tspan>CD56</tspan><tspan dy="-2.80" font-size="3.85">dim</tspan><tspan dy="2.80">CD159c</tspan><tspan dy="-2.80" font-size="3.85">+</tspan><tspan dy="2.80">/µL</tspan></text>
<text x="401.80" y="352.80" font-size="11.6" text-anchor="start" fill="#000" stroke="#000" stroke-width="0.22" font-weight="bold">G</text>
<line x1="447.30" y1="432.90" x2="447.30" y2="369.50" stroke="#222" stroke-width="1.1"/>
<line x1="446.80" y1="432.40" x2="477.20" y2="432.40" stroke="#222" stroke-width="1.1"/>
<line x1="444.70" y1="432.40" x2="447.30" y2="432.40" stroke="#222" stroke-width="0.9"/>
<text x="440.70" y="434.70" font-size="6.5" text-anchor="end" fill="#2a2a2a" stroke="#2a2a2a" stroke-width="0.22" font-weight="normal">0</text>
<line x1="444.70" y1="417.50" x2="447.30" y2="417.50" stroke="#222" stroke-width="0.9"/>
<text x="440.70" y="419.80" font-size="6.5" text-anchor="end" fill="#2a2a2a" stroke="#2a2a2a" stroke-width="0.22" font-weight="normal">150</text>
<line x1="444.70" y1="402.50" x2="447.30" y2="402.50" stroke="#222" stroke-width="0.9"/>
<text x="440.70" y="404.80" font-size="6.5" text-anchor="end" fill="#2a2a2a" stroke="#2a2a2a" stroke-width="0.22" font-weight="normal">300</text>
<line x1="444.70" y1="387.50" x2="447.30" y2="387.50" stroke="#222" stroke-width="0.9"/>
<text x="440.70" y="389.80" font-size="6.5" text-anchor="end" fill="#2a2a2a" stroke="#2a2a2a" stroke-width="0.22" font-weight="normal">450</text>
<line x1="444.70" y1="372.50" x2="447.30" y2="372.50" stroke="#222" stroke-width="0.9"/>
<text x="440.70" y="374.80" font-size="6.5" text-anchor="end" fill="#2a2a2a" stroke="#2a2a2a" stroke-width="0.22" font-weight="normal">600</text>
<line x1="481.40" y1="430.90" x2="481.40" y2="367.00" stroke="#333" stroke-width="1.3" stroke-dasharray="1.3 2.9"/>
<line x1="481.40" y1="432.40" x2="512.50" y2="432.40" stroke="#222" stroke-width="1.1"/>
<line x1="456.50" y1="432.40" x2="456.50" y2="434.80" stroke="#222" stroke-width="0.9"/>
<line x1="468.50" y1="432.40" x2="468.50" y2="434.80" stroke="#222" stroke-width="0.9"/>
<line x1="491.40" y1="432.40" x2="491.40" y2="434.80" stroke="#222" stroke-width="0.9"/>
<line x1="502.90" y1="432.40" x2="502.90" y2="434.80" stroke="#222" stroke-width="0.9"/>
<line x1="456.50" y1="420.80" x2="468.50" y2="398.20" stroke="#d0d0e2" stroke-width="0.7"/>
<line x1="456.50" y1="426.20" x2="468.50" y2="408.10" stroke="#d0d0e2" stroke-width="0.7"/>
<line x1="456.50" y1="427.30" x2="468.50" y2="409.60" stroke="#d0d0e2" stroke-width="0.7"/>
<line x1="456.50" y1="429.20" x2="468.50" y2="415.20" stroke="#d0d0e2" stroke-width="0.7"/>
<line x1="456.50" y1="430.80" x2="468.50" y2="417.30" stroke="#d0d0e2" stroke-width="0.7"/>
<line x1="456.50" y1="431.50" x2="468.50" y2="418.10" stroke="#d0d0e2" stroke-width="0.7"/>
<line x1="456.50" y1="432.00" x2="468.50" y2="421.90" stroke="#d0d0e2" stroke-width="0.7"/>
<line x1="456.50" y1="432.00" x2="468.50" y2="425.40" stroke="#d0d0e2" stroke-width="0.7"/>
<line x1="456.50" y1="432.00" x2="468.50" y2="428.80" stroke="#d0d0e2" stroke-width="0.7"/>
<line x1="491.40" y1="421.20" x2="502.90" y2="415.40" stroke="#d0d4e2" stroke-width="0.7"/>
<line x1="491.40" y1="423.40" x2="502.90" y2="417.20" stroke="#d0d4e2" stroke-width="0.7"/>
<line x1="491.40" y1="425.00" x2="502.90" y2="421.80" stroke="#d0d4e2" stroke-width="0.7"/>
<line x1="491.40" y1="429.20" x2="502.90" y2="424.00" stroke="#d0d4e2" stroke-width="0.7"/>
<line x1="491.40" y1="431.00" x2="502.90" y2="426.20" stroke="#d0d4e2" stroke-width="0.7"/>
<circle cx="456.50" cy="420.80" r="1.8" fill="#27196e"/>
<circle cx="468.50" cy="398.20" r="1.8" fill="#27196e"/>
<circle cx="456.50" cy="426.20" r="1.8" fill="#27196e"/>
<circle cx="468.50" cy="408.10" r="1.8" fill="#27196e"/>
<circle cx="456.50" cy="427.30" r="1.8" fill="#27196e"/>
<circle cx="468.50" cy="409.60" r="1.8" fill="#27196e"/>
<circle cx="456.50" cy="429.20" r="1.8" fill="#27196e"/>
<circle cx="468.50" cy="415.20" r="1.8" fill="#27196e"/>
<circle cx="456.50" cy="430.80" r="1.8" fill="#27196e"/>
<circle cx="468.50" cy="417.30" r="1.8" fill="#27196e"/>
<circle cx="456.50" cy="431.50" r="1.8" fill="#27196e"/>
<circle cx="468.50" cy="418.10" r="1.8" fill="#27196e"/>
<circle cx="456.50" cy="432.00" r="1.8" fill="#27196e"/>
<circle cx="468.50" cy="421.90" r="1.8" fill="#27196e"/>
<circle cx="456.50" cy="432.00" r="1.8" fill="#27196e"/>
<circle cx="468.50" cy="425.40" r="1.8" fill="#27196e"/>
<circle cx="456.50" cy="432.00" r="1.8" fill="#27196e"/>
<circle cx="468.50" cy="428.80" r="1.8" fill="#27196e"/>
<rect x="489.70" y="419.50" width="3.40" height="3.40" fill="#cc9a2a" stroke="#a87a1c" stroke-width="0.4"/>
<rect x="501.20" y="413.70" width="3.40" height="3.40" fill="#cc9a2a" stroke="#a87a1c" stroke-width="0.4"/>
<rect x="489.70" y="421.70" width="3.40" height="3.40" fill="#cc9a2a" stroke="#a87a1c" stroke-width="0.4"/>
<rect x="501.20" y="415.50" width="3.40" height="3.40" fill="#cc9a2a" stroke="#a87a1c" stroke-width="0.4"/>
<rect x="489.70" y="423.30" width="3.40" height="3.40" fill="#cc9a2a" stroke="#a87a1c" stroke-width="0.4"/>
<rect x="501.20" y="420.10" width="3.40" height="3.40" fill="#cc9a2a" stroke="#a87a1c" stroke-width="0.4"/>
<rect x="489.70" y="427.50" width="3.40" height="3.40" fill="#cc9a2a" stroke="#a87a1c" stroke-width="0.4"/>
<rect x="501.20" y="422.30" width="3.40" height="3.40" fill="#cc9a2a" stroke="#a87a1c" stroke-width="0.4"/>
<rect x="489.70" y="429.30" width="3.40" height="3.40" fill="#cc9a2a" stroke="#a87a1c" stroke-width="0.4"/>
<rect x="501.20" y="424.50" width="3.40" height="3.40" fill="#cc9a2a" stroke="#a87a1c" stroke-width="0.4"/>
<rect x="501.20" y="426.70" width="3.40" height="3.40" fill="#cc9a2a" stroke="#a87a1c" stroke-width="0.4"/>
<rect x="501.20" y="428.90" width="3.40" height="3.40" fill="#cc9a2a" stroke="#a87a1c" stroke-width="0.4"/>
<rect x="501.20" y="429.30" width="3.40" height="3.40" fill="#cc9a2a" stroke="#a87a1c" stroke-width="0.4"/>
<line x1="456.50" y1="366.80" x2="468.50" y2="366.80" stroke="#444" stroke-width="1.0"/>
<circle cx="461.25" cy="363.20" r="0.75" fill="#333"/>
<circle cx="463.75" cy="363.20" r="0.75" fill="#333"/>
<line x1="491.40" y1="366.80" x2="502.90" y2="366.80" stroke="#444" stroke-width="1.0"/>
<text x="497.15" y="365.20" font-size="6.4" text-anchor="middle" fill="#444" stroke="#444" stroke-width="0.22" font-weight="normal">ns</text>
<text x="456.50" y="444.40" font-size="6.5" text-anchor="middle" fill="#2a2a2a" stroke="#2a2a2a" stroke-width="0.22" font-weight="normal">90</text>
<text x="468.50" y="444.40" font-size="6.5" text-anchor="middle" fill="#2a2a2a" stroke="#2a2a2a" stroke-width="0.22" font-weight="normal">210</text>
<text x="491.40" y="444.40" font-size="6.5" text-anchor="middle" fill="#2a2a2a" stroke="#2a2a2a" stroke-width="0.22" font-weight="normal">90</text>
<text x="502.90" y="444.40" font-size="6.5" text-anchor="middle" fill="#2a2a2a" stroke="#2a2a2a" stroke-width="0.22" font-weight="normal">210</text>
<text x="439.30" y="444.40" font-size="6.5" text-anchor="middle" fill="#2a2a2a" stroke="#2a2a2a" stroke-width="0.22" font-weight="normal">day</text>
<text x="0.00" y="0.00" font-size="7.0" text-anchor="middle" fill="#111" stroke="#111" stroke-width="0.34" transform="translate(424.50 401.90) rotate(-90) scale(0.87 1)"><tspan>CD56</tspan><tspan dy="-2.80" font-size="3.85">dim</tspan><tspan dy="2.80">CD159c</tspan><tspan dy="-2.80" font-size="3.85">+</tspan><tspan dy="2.80">CD57</tspan><tspan dy="-2.80" font-size="3.85">+</tspan><tspan dy="2.80">/µL</tspan></text>
<text x="6.90" y="470.70" font-size="11.6" text-anchor="start" fill="#000" stroke="#000" stroke-width="0.22" font-weight="bold">H</text>
<line x1="43.30" y1="543.20" x2="43.30" y2="480.30" stroke="#222" stroke-width="1.1"/>
<line x1="42.80" y1="542.70" x2="73.80" y2="542.70" stroke="#222" stroke-width="1.1"/>
<line x1="40.70" y1="542.70" x2="43.30" y2="542.70" stroke="#222" stroke-width="0.9"/>
<text x="36.70" y="545.00" font-size="6.5" text-anchor="end" fill="#2a2a2a" stroke="#2a2a2a" stroke-width="0.22" font-weight="normal">0</text>
<line x1="40.70" y1="527.80" x2="43.30" y2="527.80" stroke="#222" stroke-width="0.9"/>
<text x="36.70" y="530.10" font-size="6.5" text-anchor="end" fill="#2a2a2a" stroke="#2a2a2a" stroke-width="0.22" font-weight="normal">75</text>
<line x1="40.70" y1="512.80" x2="43.30" y2="512.80" stroke="#222" stroke-width="0.9"/>
<text x="36.70" y="515.10" font-size="6.5" text-anchor="end" fill="#2a2a2a" stroke="#2a2a2a" stroke-width="0.22" font-weight="normal">150</text>
<line x1="40.70" y1="497.80" x2="43.30" y2="497.80" stroke="#222" stroke-width="0.9"/>
<text x="36.70" y="500.10" font-size="6.5" text-anchor="end" fill="#2a2a2a" stroke="#2a2a2a" stroke-width="0.22" font-weight="normal">225</text>
<line x1="40.70" y1="482.80" x2="43.30" y2="482.80" stroke="#222" stroke-width="0.9"/>
<text x="36.70" y="485.10" font-size="6.5" text-anchor="end" fill="#2a2a2a" stroke="#2a2a2a" stroke-width="0.22" font-weight="normal">300</text>
<line x1="81.20" y1="541.20" x2="81.20" y2="477.80" stroke="#333" stroke-width="1.3" stroke-dasharray="1.3 2.9"/>
<line x1="81.20" y1="542.70" x2="113.50" y2="542.70" stroke="#222" stroke-width="1.1"/>
<line x1="53.10" y1="542.70" x2="53.10" y2="545.10" stroke="#222" stroke-width="0.9"/>
<line x1="64.40" y1="542.70" x2="64.40" y2="545.10" stroke="#222" stroke-width="0.9"/>
<line x1="91.60" y1="542.70" x2="91.60" y2="545.10" stroke="#222" stroke-width="0.9"/>
<line x1="103.10" y1="542.70" x2="103.10" y2="545.10" stroke="#222" stroke-width="0.9"/>
<line x1="53.10" y1="532.20" x2="64.40" y2="496.50" stroke="#d0d0e2" stroke-width="0.7"/>
<line x1="53.10" y1="535.80" x2="64.40" y2="512.70" stroke="#d0d0e2" stroke-width="0.7"/>
<line x1="53.10" y1="538.00" x2="64.40" y2="527.30" stroke="#d0d0e2" stroke-width="0.7"/>
<line x1="53.10" y1="540.20" x2="64.40" y2="530.00" stroke="#d0d0e2" stroke-width="0.7"/>
<line x1="53.10" y1="541.50" x2="64.40" y2="532.30" stroke="#d0d0e2" stroke-width="0.7"/>
<line x1="53.10" y1="542.20" x2="64.40" y2="536.50" stroke="#d0d0e2" stroke-width="0.7"/>
<line x1="53.10" y1="542.40" x2="64.40" y2="538.50" stroke="#d0d0e2" stroke-width="0.7"/>
<line x1="53.10" y1="542.50" x2="64.40" y2="540.40" stroke="#d0d0e2" stroke-width="0.7"/>
<line x1="91.60" y1="532.70" x2="103.10" y2="527.30" stroke="#d0d4e2" stroke-width="0.7"/>
<line x1="91.60" y1="534.90" x2="103.10" y2="529.50" stroke="#d0d4e2" stroke-width="0.7"/>
<line x1="91.60" y1="537.10" x2="103.10" y2="531.70" stroke="#d0d4e2" stroke-width="0.7"/>
<line x1="91.60" y1="539.30" x2="103.10" y2="533.90" stroke="#d0d4e2" stroke-width="0.7"/>
<line x1="91.60" y1="541.00" x2="103.10" y2="538.50" stroke="#d0d4e2" stroke-width="0.7"/>
<circle cx="53.10" cy="532.20" r="1.8" fill="#27196e"/>
<circle cx="64.40" cy="496.50" r="1.8" fill="#27196e"/>
<circle cx="53.10" cy="535.80" r="1.8" fill="#27196e"/>
<circle cx="64.40" cy="512.70" r="1.8" fill="#27196e"/>
<circle cx="53.10" cy="538.00" r="1.8" fill="#27196e"/>
<circle cx="64.40" cy="527.30" r="1.8" fill="#27196e"/>
<circle cx="53.10" cy="540.20" r="1.8" fill="#27196e"/>
<circle cx="64.40" cy="530.00" r="1.8" fill="#27196e"/>
<circle cx="53.10" cy="541.50" r="1.8" fill="#27196e"/>
<circle cx="64.40" cy="532.30" r="1.8" fill="#27196e"/>
<circle cx="53.10" cy="542.20" r="1.8" fill="#27196e"/>
<circle cx="64.40" cy="536.50" r="1.8" fill="#27196e"/>
<circle cx="53.10" cy="542.40" r="1.8" fill="#27196e"/>
<circle cx="64.40" cy="538.50" r="1.8" fill="#27196e"/>
<circle cx="53.10" cy="542.50" r="1.8" fill="#27196e"/>
<circle cx="64.40" cy="540.40" r="1.8" fill="#27196e"/>
<rect x="89.90" y="531.00" width="3.40" height="3.40" fill="#cc9a2a" stroke="#a87a1c" stroke-width="0.4"/>
<rect x="101.40" y="525.60" width="3.40" height="3.40" fill="#cc9a2a" stroke="#a87a1c" stroke-width="0.4"/>
<rect x="89.90" y="533.20" width="3.40" height="3.40" fill="#cc9a2a" stroke="#a87a1c" stroke-width="0.4"/>
<rect x="101.40" y="527.80" width="3.40" height="3.40" fill="#cc9a2a" stroke="#a87a1c" stroke-width="0.4"/>
<rect x="89.90" y="535.40" width="3.40" height="3.40" fill="#cc9a2a" stroke="#a87a1c" stroke-width="0.4"/>
<rect x="101.40" y="530.00" width="3.40" height="3.40" fill="#cc9a2a" stroke="#a87a1c" stroke-width="0.4"/>
<rect x="89.90" y="537.60" width="3.40" height="3.40" fill="#cc9a2a" stroke="#a87a1c" stroke-width="0.4"/>
<rect x="101.40" y="532.20" width="3.40" height="3.40" fill="#cc9a2a" stroke="#a87a1c" stroke-width="0.4"/>
<rect x="89.90" y="539.30" width="3.40" height="3.40" fill="#cc9a2a" stroke="#a87a1c" stroke-width="0.4"/>
<rect x="101.40" y="536.80" width="3.40" height="3.40" fill="#cc9a2a" stroke="#a87a1c" stroke-width="0.4"/>
<rect x="101.40" y="539.00" width="3.40" height="3.40" fill="#cc9a2a" stroke="#a87a1c" stroke-width="0.4"/>
<rect x="101.40" y="539.30" width="3.40" height="3.40" fill="#cc9a2a" stroke="#a87a1c" stroke-width="0.4"/>
<line x1="53.10" y1="477.30" x2="64.40" y2="477.30" stroke="#444" stroke-width="1.0"/>
<circle cx="57.50" cy="473.70" r="0.75" fill="#333"/>
<circle cx="60.00" cy="473.70" r="0.75" fill="#333"/>
<line x1="91.60" y1="477.30" x2="103.10" y2="477.30" stroke="#444" stroke-width="1.0"/>
<text x="97.35" y="475.70" font-size="6.4" text-anchor="middle" fill="#444" stroke="#444" stroke-width="0.22" font-weight="normal">ns</text>
<text x="53.10" y="555.20" font-size="6.5" text-anchor="middle" fill="#2a2a2a" stroke="#2a2a2a" stroke-width="0.22" font-weight="normal">90</text>
<text x="64.40" y="555.20" font-size="6.5" text-anchor="middle" fill="#2a2a2a" stroke="#2a2a2a" stroke-width="0.22" font-weight="normal">210</text>
<text x="91.60" y="555.20" font-size="6.5" text-anchor="middle" fill="#2a2a2a" stroke="#2a2a2a" stroke-width="0.22" font-weight="normal">90</text>
<text x="103.10" y="555.20" font-size="6.5" text-anchor="middle" fill="#2a2a2a" stroke="#2a2a2a" stroke-width="0.22" font-weight="normal">210</text>
<text x="35.40" y="555.20" font-size="6.5" text-anchor="middle" fill="#2a2a2a" stroke="#2a2a2a" stroke-width="0.22" font-weight="normal">day</text>
<text x="0.00" y="0.00" font-size="7.0" text-anchor="middle" fill="#111" stroke="#111" stroke-width="0.34" transform="translate(21.00 511.90) rotate(-90) scale(0.87 1)"><tspan>CD56</tspan><tspan dy="-2.80" font-size="3.85">dim</tspan><tspan dy="2.80">CD159c</tspan><tspan dy="-2.80" font-size="3.85">++</tspan><tspan dy="2.80">/µL</tspan></text>
<text x="122.60" y="470.70" font-size="11.6" text-anchor="start" fill="#000" stroke="#000" stroke-width="0.22" font-weight="bold">I</text>
<line x1="155.30" y1="543.20" x2="155.30" y2="480.30" stroke="#222" stroke-width="1.1"/>
<line x1="154.80" y1="542.70" x2="186.70" y2="542.70" stroke="#222" stroke-width="1.1"/>
<line x1="152.70" y1="542.70" x2="155.30" y2="542.70" stroke="#222" stroke-width="0.9"/>
<text x="148.70" y="545.00" font-size="6.5" text-anchor="end" fill="#2a2a2a" stroke="#2a2a2a" stroke-width="0.22" font-weight="normal">0</text>
<line x1="152.70" y1="527.80" x2="155.30" y2="527.80" stroke="#222" stroke-width="0.9"/>
<text x="148.70" y="530.10" font-size="6.5" text-anchor="end" fill="#2a2a2a" stroke="#2a2a2a" stroke-width="0.22" font-weight="normal">75</text>
<line x1="152.70" y1="512.80" x2="155.30" y2="512.80" stroke="#222" stroke-width="0.9"/>
<text x="148.70" y="515.10" font-size="6.5" text-anchor="end" fill="#2a2a2a" stroke="#2a2a2a" stroke-width="0.22" font-weight="normal">150</text>
<line x1="152.70" y1="497.80" x2="155.30" y2="497.80" stroke="#222" stroke-width="0.9"/>
<text x="148.70" y="500.10" font-size="6.5" text-anchor="end" fill="#2a2a2a" stroke="#2a2a2a" stroke-width="0.22" font-weight="normal">225</text>
<line x1="152.70" y1="482.80" x2="155.30" y2="482.80" stroke="#222" stroke-width="0.9"/>
<text x="148.70" y="485.10" font-size="6.5" text-anchor="end" fill="#2a2a2a" stroke="#2a2a2a" stroke-width="0.22" font-weight="normal">300</text>
<line x1="193.50" y1="541.20" x2="193.50" y2="477.80" stroke="#333" stroke-width="1.3" stroke-dasharray="1.3 2.9"/>
<line x1="193.50" y1="542.70" x2="225.00" y2="542.70" stroke="#222" stroke-width="1.1"/>
<line x1="165.50" y1="542.70" x2="165.50" y2="545.10" stroke="#222" stroke-width="0.9"/>
<line x1="177.00" y1="542.70" x2="177.00" y2="545.10" stroke="#222" stroke-width="0.9"/>
<line x1="204.00" y1="542.70" x2="204.00" y2="545.10" stroke="#222" stroke-width="0.9"/>
<line x1="215.00" y1="542.70" x2="215.00" y2="545.10" stroke="#222" stroke-width="0.9"/>
<line x1="165.50" y1="533.60" x2="177.00" y2="499.90" stroke="#d0d0e2" stroke-width="0.7"/>
<line x1="165.50" y1="535.80" x2="177.00" y2="518.80" stroke="#d0d0e2" stroke-width="0.7"/>
<line x1="165.50" y1="537.80" x2="177.00" y2="521.00" stroke="#d0d0e2" stroke-width="0.7"/>
<line x1="165.50" y1="539.90" x2="177.00" y2="531.50" stroke="#d0d0e2" stroke-width="0.7"/>
<line x1="165.50" y1="541.90" x2="177.00" y2="533.80" stroke="#d0d0e2" stroke-width="0.7"/>
<line x1="165.50" y1="542.30" x2="177.00" y2="538.30" stroke="#d0d0e2" stroke-width="0.7"/>
<line x1="165.50" y1="542.50" x2="177.00" y2="540.40" stroke="#d0d0e2" stroke-width="0.7"/>
<line x1="204.00" y1="533.50" x2="215.00" y2="529.00" stroke="#d0d4e2" stroke-width="0.7"/>
<line x1="204.00" y1="535.80" x2="215.00" y2="531.20" stroke="#d0d4e2" stroke-width="0.7"/>
<line x1="204.00" y1="538.10" x2="215.00" y2="535.50" stroke="#d0d4e2" stroke-width="0.7"/>
<line x1="204.00" y1="540.40" x2="215.00" y2="537.80" stroke="#d0d4e2" stroke-width="0.7"/>
<line x1="204.00" y1="542.50" x2="215.00" y2="540.10" stroke="#d0d4e2" stroke-width="0.7"/>
<line x1="204.00" y1="542.50" x2="215.00" y2="542.40" stroke="#d0d4e2" stroke-width="0.7"/>
<circle cx="165.50" cy="533.60" r="1.8" fill="#27196e"/>
<circle cx="177.00" cy="499.90" r="1.8" fill="#27196e"/>
<circle cx="165.50" cy="535.80" r="1.8" fill="#27196e"/>
<circle cx="177.00" cy="518.80" r="1.8" fill="#27196e"/>
<circle cx="165.50" cy="537.80" r="1.8" fill="#27196e"/>
<circle cx="177.00" cy="521.00" r="1.8" fill="#27196e"/>
<circle cx="165.50" cy="539.90" r="1.8" fill="#27196e"/>
<circle cx="177.00" cy="531.50" r="1.8" fill="#27196e"/>
<circle cx="165.50" cy="541.90" r="1.8" fill="#27196e"/>
<circle cx="177.00" cy="533.80" r="1.8" fill="#27196e"/>
<circle cx="165.50" cy="542.30" r="1.8" fill="#27196e"/>
<circle cx="177.00" cy="538.30" r="1.8" fill="#27196e"/>
<circle cx="165.50" cy="542.50" r="1.8" fill="#27196e"/>
<circle cx="177.00" cy="540.40" r="1.8" fill="#27196e"/>
<rect x="202.30" y="531.80" width="3.40" height="3.40" fill="#cc9a2a" stroke="#a87a1c" stroke-width="0.4"/>
<rect x="213.30" y="527.30" width="3.40" height="3.40" fill="#cc9a2a" stroke="#a87a1c" stroke-width="0.4"/>
<rect x="202.30" y="534.10" width="3.40" height="3.40" fill="#cc9a2a" stroke="#a87a1c" stroke-width="0.4"/>
<rect x="213.30" y="529.50" width="3.40" height="3.40" fill="#cc9a2a" stroke="#a87a1c" stroke-width="0.4"/>
<rect x="202.30" y="536.40" width="3.40" height="3.40" fill="#cc9a2a" stroke="#a87a1c" stroke-width="0.4"/>
<rect x="213.30" y="533.80" width="3.40" height="3.40" fill="#cc9a2a" stroke="#a87a1c" stroke-width="0.4"/>
<rect x="202.30" y="538.70" width="3.40" height="3.40" fill="#cc9a2a" stroke="#a87a1c" stroke-width="0.4"/>
<rect x="213.30" y="536.10" width="3.40" height="3.40" fill="#cc9a2a" stroke="#a87a1c" stroke-width="0.4"/>
<rect x="202.30" y="540.80" width="3.40" height="3.40" fill="#cc9a2a" stroke="#a87a1c" stroke-width="0.4"/>
<rect x="213.30" y="538.40" width="3.40" height="3.40" fill="#cc9a2a" stroke="#a87a1c" stroke-width="0.4"/>
<rect x="202.30" y="540.80" width="3.40" height="3.40" fill="#cc9a2a" stroke="#a87a1c" stroke-width="0.4"/>
<rect x="213.30" y="540.70" width="3.40" height="3.40" fill="#cc9a2a" stroke="#a87a1c" stroke-width="0.4"/>
<line x1="165.50" y1="477.30" x2="177.00" y2="477.30" stroke="#444" stroke-width="1.0"/>
<circle cx="170.00" cy="473.70" r="0.75" fill="#333"/>
<circle cx="172.50" cy="473.70" r="0.75" fill="#333"/>
<line x1="204.00" y1="477.30" x2="215.00" y2="477.30" stroke="#444" stroke-width="1.0"/>
<text x="209.50" y="475.70" font-size="6.4" text-anchor="middle" fill="#444" stroke="#444" stroke-width="0.22" font-weight="normal">ns</text>
<text x="165.50" y="555.20" font-size="6.5" text-anchor="middle" fill="#2a2a2a" stroke="#2a2a2a" stroke-width="0.22" font-weight="normal">90</text>
<text x="177.00" y="555.20" font-size="6.5" text-anchor="middle" fill="#2a2a2a" stroke="#2a2a2a" stroke-width="0.22" font-weight="normal">210</text>
<text x="204.00" y="555.20" font-size="6.5" text-anchor="middle" fill="#2a2a2a" stroke="#2a2a2a" stroke-width="0.22" font-weight="normal">90</text>
<text x="215.00" y="555.20" font-size="6.5" text-anchor="middle" fill="#2a2a2a" stroke="#2a2a2a" stroke-width="0.22" font-weight="normal">210</text>
<text x="148.00" y="555.20" font-size="6.5" text-anchor="middle" fill="#2a2a2a" stroke="#2a2a2a" stroke-width="0.22" font-weight="normal">day</text>
<text x="0.00" y="0.00" font-size="7.0" text-anchor="middle" fill="#111" stroke="#111" stroke-width="0.34" transform="translate(133.60 512.10) rotate(-90) scale(0.87 1)"><tspan>CD56</tspan><tspan dy="-2.80" font-size="3.85">dim</tspan><tspan dy="2.80">CD159c</tspan><tspan dy="-2.80" font-size="3.85">++</tspan><tspan dy="2.80">CD57</tspan><tspan dy="-2.80" font-size="3.85">+</tspan><tspan dy="2.80">/µL</tspan></text>
<text x="234.50" y="470.70" font-size="11.6" text-anchor="start" fill="#000" stroke="#000" stroke-width="0.22" font-weight="bold">J</text>
<line x1="267.80" y1="543.30" x2="267.80" y2="480.30" stroke="#222" stroke-width="1.1"/>
<line x1="267.30" y1="542.80" x2="298.90" y2="542.80" stroke="#222" stroke-width="1.1"/>
<line x1="265.20" y1="542.80" x2="267.80" y2="542.80" stroke="#222" stroke-width="0.9"/>
<text x="261.20" y="545.10" font-size="6.5" text-anchor="end" fill="#2a2a2a" stroke="#2a2a2a" stroke-width="0.22" font-weight="normal">0</text>
<line x1="265.20" y1="527.90" x2="267.80" y2="527.90" stroke="#222" stroke-width="0.9"/>
<text x="261.20" y="530.20" font-size="6.5" text-anchor="end" fill="#2a2a2a" stroke="#2a2a2a" stroke-width="0.22" font-weight="normal">80</text>
<line x1="265.20" y1="513.00" x2="267.80" y2="513.00" stroke="#222" stroke-width="0.9"/>
<text x="261.20" y="515.30" font-size="6.5" text-anchor="end" fill="#2a2a2a" stroke="#2a2a2a" stroke-width="0.22" font-weight="normal">160</text>
<line x1="265.20" y1="498.20" x2="267.80" y2="498.20" stroke="#222" stroke-width="0.9"/>
<text x="261.20" y="500.50" font-size="6.5" text-anchor="end" fill="#2a2a2a" stroke="#2a2a2a" stroke-width="0.22" font-weight="normal">240</text>
<line x1="265.20" y1="483.00" x2="267.80" y2="483.00" stroke="#222" stroke-width="0.9"/>
<text x="261.20" y="485.30" font-size="6.5" text-anchor="end" fill="#2a2a2a" stroke="#2a2a2a" stroke-width="0.22" font-weight="normal">320</text>
<line x1="277.40" y1="542.80" x2="277.40" y2="545.20" stroke="#222" stroke-width="0.9"/>
<line x1="289.30" y1="542.80" x2="289.30" y2="545.20" stroke="#222" stroke-width="0.9"/>
<line x1="277.40" y1="516.60" x2="289.30" y2="498.00" stroke="#c0cae4" stroke-width="0.7"/>
<line x1="277.40" y1="518.40" x2="289.30" y2="511.00" stroke="#c0cae4" stroke-width="0.7"/>
<line x1="277.40" y1="523.50" x2="289.30" y2="519.60" stroke="#c0cae4" stroke-width="0.7"/>
<line x1="277.40" y1="528.50" x2="289.30" y2="517.80" stroke="#c0cae4" stroke-width="0.7"/>
<line x1="277.40" y1="531.00" x2="289.30" y2="535.00" stroke="#c0cae4" stroke-width="0.7"/>
<line x1="277.40" y1="533.50" x2="289.30" y2="536.80" stroke="#c0cae4" stroke-width="0.7"/>
<line x1="277.40" y1="536.00" x2="289.30" y2="539.80" stroke="#c0cae4" stroke-width="0.7"/>
<line x1="277.40" y1="540.50" x2="289.30" y2="541.50" stroke="#c0cae4" stroke-width="0.7"/>
<rect x="275.70" y="500.60" width="3.40" height="3.40" fill="#cc9a2a" stroke="#a87a1c" stroke-width="0.4"/>
<rect x="275.70" y="514.90" width="3.40" height="3.40" fill="#cc9a2a" stroke="#a87a1c" stroke-width="0.4"/>
<rect x="287.60" y="496.30" width="3.40" height="3.40" fill="#cc9a2a" stroke="#a87a1c" stroke-width="0.4"/>
<rect x="275.70" y="516.70" width="3.40" height="3.40" fill="#cc9a2a" stroke="#a87a1c" stroke-width="0.4"/>
<rect x="287.60" y="509.30" width="3.40" height="3.40" fill="#cc9a2a" stroke="#a87a1c" stroke-width="0.4"/>
<rect x="275.70" y="519.30" width="3.40" height="3.40" fill="#cc9a2a" stroke="#a87a1c" stroke-width="0.4"/>
<rect x="275.70" y="521.80" width="3.40" height="3.40" fill="#cc9a2a" stroke="#a87a1c" stroke-width="0.4"/>
<rect x="287.60" y="517.90" width="3.40" height="3.40" fill="#cc9a2a" stroke="#a87a1c" stroke-width="0.4"/>
<rect x="275.70" y="524.30" width="3.40" height="3.40" fill="#cc9a2a" stroke="#a87a1c" stroke-width="0.4"/>
<rect x="275.70" y="526.80" width="3.40" height="3.40" fill="#cc9a2a" stroke="#a87a1c" stroke-width="0.4"/>
<rect x="287.60" y="516.10" width="3.40" height="3.40" fill="#cc9a2a" stroke="#a87a1c" stroke-width="0.4"/>
<rect x="275.70" y="529.30" width="3.40" height="3.40" fill="#cc9a2a" stroke="#a87a1c" stroke-width="0.4"/>
<rect x="287.60" y="533.30" width="3.40" height="3.40" fill="#cc9a2a" stroke="#a87a1c" stroke-width="0.4"/>
<rect x="275.70" y="531.80" width="3.40" height="3.40" fill="#cc9a2a" stroke="#a87a1c" stroke-width="0.4"/>
<rect x="287.60" y="535.10" width="3.40" height="3.40" fill="#cc9a2a" stroke="#a87a1c" stroke-width="0.4"/>
<rect x="275.70" y="534.30" width="3.40" height="3.40" fill="#cc9a2a" stroke="#a87a1c" stroke-width="0.4"/>
<rect x="287.60" y="538.10" width="3.40" height="3.40" fill="#cc9a2a" stroke="#a87a1c" stroke-width="0.4"/>
<rect x="275.70" y="538.80" width="3.40" height="3.40" fill="#cc9a2a" stroke="#a87a1c" stroke-width="0.4"/>
<rect x="287.60" y="539.80" width="3.40" height="3.40" fill="#cc9a2a" stroke="#a87a1c" stroke-width="0.4"/>
<rect x="275.70" y="540.60" width="3.40" height="3.40" fill="#cc9a2a" stroke="#a87a1c" stroke-width="0.4"/>
<text x="280.00" y="552.10" font-size="6.4" text-anchor="end" fill="#2a2a2a" stroke="#2a2a2a" stroke-width="0.22" transform="rotate(-46 280.00 552.10)">before csCMVi</text>
<text x="291.90" y="552.10" font-size="6.4" text-anchor="end" fill="#2a2a2a" stroke="#2a2a2a" stroke-width="0.22" transform="rotate(-46 291.90 552.10)">after csCMVi</text>
<text x="0.00" y="0.00" font-size="7.0" text-anchor="middle" fill="#111" stroke="#111" stroke-width="0.34" transform="translate(245.80 510.40) rotate(-90) scale(0.87 1)"><tspan>CD56</tspan><tspan dy="-2.80" font-size="3.85">dim</tspan><tspan dy="2.80">CD159c</tspan><tspan dy="-2.80" font-size="3.85">+</tspan><tspan dy="2.80">/µL</tspan></text>
<line x1="335.80" y1="543.30" x2="335.80" y2="480.30" stroke="#222" stroke-width="1.1"/>
<line x1="335.30" y1="542.80" x2="367.00" y2="542.80" stroke="#222" stroke-width="1.1"/>
<line x1="333.20" y1="542.80" x2="335.80" y2="542.80" stroke="#222" stroke-width="0.9"/>
<text x="329.20" y="545.10" font-size="6.5" text-anchor="end" fill="#2a2a2a" stroke="#2a2a2a" stroke-width="0.22" font-weight="normal">0</text>
<line x1="333.20" y1="527.90" x2="335.80" y2="527.90" stroke="#222" stroke-width="0.9"/>
<text x="329.20" y="530.20" font-size="6.5" text-anchor="end" fill="#2a2a2a" stroke="#2a2a2a" stroke-width="0.22" font-weight="normal">80</text>
<line x1="333.20" y1="513.00" x2="335.80" y2="513.00" stroke="#222" stroke-width="0.9"/>
<text x="329.20" y="515.30" font-size="6.5" text-anchor="end" fill="#2a2a2a" stroke="#2a2a2a" stroke-width="0.22" font-weight="normal">160</text>
<line x1="333.20" y1="498.20" x2="335.80" y2="498.20" stroke="#222" stroke-width="0.9"/>
<text x="329.20" y="500.50" font-size="6.5" text-anchor="end" fill="#2a2a2a" stroke="#2a2a2a" stroke-width="0.22" font-weight="normal">240</text>
<line x1="333.20" y1="483.00" x2="335.80" y2="483.00" stroke="#222" stroke-width="0.9"/>
<text x="329.20" y="485.30" font-size="6.5" text-anchor="end" fill="#2a2a2a" stroke="#2a2a2a" stroke-width="0.22" font-weight="normal">320</text>
<line x1="345.40" y1="542.80" x2="345.40" y2="545.20" stroke="#222" stroke-width="0.9"/>
<line x1="357.10" y1="542.80" x2="357.10" y2="545.20" stroke="#222" stroke-width="0.9"/>
<line x1="345.40" y1="518.50" x2="357.10" y2="502.30" stroke="#c0cae4" stroke-width="0.7"/>
<line x1="345.40" y1="523.50" x2="357.10" y2="513.40" stroke="#c0cae4" stroke-width="0.7"/>
<line x1="345.40" y1="532.00" x2="357.10" y2="523.70" stroke="#c0cae4" stroke-width="0.7"/>
<line x1="345.40" y1="534.50" x2="357.10" y2="525.50" stroke="#c0cae4" stroke-width="0.7"/>
<line x1="345.40" y1="537.00" x2="357.10" y2="536.80" stroke="#c0cae4" stroke-width="0.7"/>
<line x1="345.40" y1="539.50" x2="357.10" y2="538.60" stroke="#c0cae4" stroke-width="0.7"/>
<line x1="345.40" y1="541.50" x2="357.10" y2="541.00" stroke="#c0cae4" stroke-width="0.7"/>
<rect x="343.70" y="516.80" width="3.40" height="3.40" fill="#cc9a2a" stroke="#a87a1c" stroke-width="0.4"/>
<rect x="355.40" y="500.60" width="3.40" height="3.40" fill="#cc9a2a" stroke="#a87a1c" stroke-width="0.4"/>
<rect x="343.70" y="519.30" width="3.40" height="3.40" fill="#cc9a2a" stroke="#a87a1c" stroke-width="0.4"/>
<rect x="343.70" y="521.80" width="3.40" height="3.40" fill="#cc9a2a" stroke="#a87a1c" stroke-width="0.4"/>
<rect x="355.40" y="511.70" width="3.40" height="3.40" fill="#cc9a2a" stroke="#a87a1c" stroke-width="0.4"/>
<rect x="343.70" y="524.30" width="3.40" height="3.40" fill="#cc9a2a" stroke="#a87a1c" stroke-width="0.4"/>
<rect x="343.70" y="530.30" width="3.40" height="3.40" fill="#cc9a2a" stroke="#a87a1c" stroke-width="0.4"/>
<rect x="355.40" y="522.00" width="3.40" height="3.40" fill="#cc9a2a" stroke="#a87a1c" stroke-width="0.4"/>
<rect x="343.70" y="532.80" width="3.40" height="3.40" fill="#cc9a2a" stroke="#a87a1c" stroke-width="0.4"/>
<rect x="355.40" y="523.80" width="3.40" height="3.40" fill="#cc9a2a" stroke="#a87a1c" stroke-width="0.4"/>
<rect x="343.70" y="535.30" width="3.40" height="3.40" fill="#cc9a2a" stroke="#a87a1c" stroke-width="0.4"/>
<rect x="355.40" y="535.10" width="3.40" height="3.40" fill="#cc9a2a" stroke="#a87a1c" stroke-width="0.4"/>
<rect x="343.70" y="537.80" width="3.40" height="3.40" fill="#cc9a2a" stroke="#a87a1c" stroke-width="0.4"/>
<rect x="355.40" y="536.90" width="3.40" height="3.40" fill="#cc9a2a" stroke="#a87a1c" stroke-width="0.4"/>
<rect x="343.70" y="539.80" width="3.40" height="3.40" fill="#cc9a2a" stroke="#a87a1c" stroke-width="0.4"/>
<rect x="355.40" y="539.30" width="3.40" height="3.40" fill="#cc9a2a" stroke="#a87a1c" stroke-width="0.4"/>
<rect x="343.70" y="540.90" width="3.40" height="3.40" fill="#cc9a2a" stroke="#a87a1c" stroke-width="0.4"/>
<text x="348.00" y="552.10" font-size="6.4" text-anchor="end" fill="#2a2a2a" stroke="#2a2a2a" stroke-width="0.22" transform="rotate(-46 348.00 552.10)">before csCMVi</text>
<text x="359.70" y="552.10" font-size="6.4" text-anchor="end" fill="#2a2a2a" stroke="#2a2a2a" stroke-width="0.22" transform="rotate(-46 359.70 552.10)">after csCMVi</text>
<text x="0.00" y="0.00" font-size="7.0" text-anchor="middle" fill="#111" stroke="#111" stroke-width="0.34" transform="translate(313.60 512.20) rotate(-90) scale(0.87 1)"><tspan>CD56</tspan><tspan dy="-2.80" font-size="3.85">dim</tspan><tspan dy="2.80">CD159c</tspan><tspan dy="-2.80" font-size="3.85">+</tspan><tspan dy="2.80">CD57</tspan><tspan dy="-2.80" font-size="3.85">+</tspan><tspan dy="2.80">/µL</tspan></text>
<text x="376.60" y="470.70" font-size="11.6" text-anchor="start" fill="#000" stroke="#000" stroke-width="0.22" font-weight="bold">K</text>
<line x1="413.50" y1="543.20" x2="413.50" y2="480.30" stroke="#222" stroke-width="1.1"/>
<line x1="413.00" y1="542.70" x2="444.70" y2="542.70" stroke="#222" stroke-width="1.1"/>
<line x1="410.90" y1="542.70" x2="413.50" y2="542.70" stroke="#222" stroke-width="0.9"/>
<text x="406.90" y="545.00" font-size="6.5" text-anchor="end" fill="#2a2a2a" stroke="#2a2a2a" stroke-width="0.22" font-weight="normal">0</text>
<line x1="410.90" y1="527.80" x2="413.50" y2="527.80" stroke="#222" stroke-width="0.9"/>
<text x="406.90" y="530.10" font-size="6.5" text-anchor="end" fill="#2a2a2a" stroke="#2a2a2a" stroke-width="0.22" font-weight="normal">25</text>
<line x1="410.90" y1="512.90" x2="413.50" y2="512.90" stroke="#222" stroke-width="0.9"/>
<text x="406.90" y="515.20" font-size="6.5" text-anchor="end" fill="#2a2a2a" stroke="#2a2a2a" stroke-width="0.22" font-weight="normal">50</text>
<line x1="410.90" y1="498.00" x2="413.50" y2="498.00" stroke="#222" stroke-width="0.9"/>
<text x="406.90" y="500.30" font-size="6.5" text-anchor="end" fill="#2a2a2a" stroke="#2a2a2a" stroke-width="0.22" font-weight="normal">75</text>
<line x1="410.90" y1="483.10" x2="413.50" y2="483.10" stroke="#222" stroke-width="0.9"/>
<text x="406.90" y="485.40" font-size="6.5" text-anchor="end" fill="#2a2a2a" stroke="#2a2a2a" stroke-width="0.22" font-weight="normal">100</text>
<line x1="423.40" y1="542.70" x2="423.40" y2="545.10" stroke="#222" stroke-width="0.9"/>
<line x1="435.30" y1="542.70" x2="435.30" y2="545.10" stroke="#222" stroke-width="0.9"/>
<line x1="423.40" y1="518.10" x2="435.30" y2="528.00" stroke="#c0cae4" stroke-width="0.7"/>
<line x1="423.40" y1="526.10" x2="435.30" y2="490.80" stroke="#c0cae4" stroke-width="0.7"/>
<line x1="423.40" y1="528.40" x2="435.30" y2="523.70" stroke="#c0cae4" stroke-width="0.7"/>
<line x1="423.40" y1="532.00" x2="435.30" y2="498.80" stroke="#c0cae4" stroke-width="0.7"/>
<line x1="423.40" y1="534.50" x2="435.30" y2="521.30" stroke="#c0cae4" stroke-width="0.7"/>
<line x1="423.40" y1="537.00" x2="435.30" y2="526.10" stroke="#c0cae4" stroke-width="0.7"/>
<line x1="423.40" y1="539.50" x2="435.30" y2="536.80" stroke="#c0cae4" stroke-width="0.7"/>
<line x1="423.40" y1="542.00" x2="435.30" y2="542.00" stroke="#c0cae4" stroke-width="0.7"/>
<rect x="421.70" y="497.40" width="3.40" height="3.40" fill="#cc9a2a" stroke="#a87a1c" stroke-width="0.4"/>
<rect x="421.70" y="506.60" width="3.40" height="3.40" fill="#cc9a2a" stroke="#a87a1c" stroke-width="0.4"/>
<rect x="421.70" y="516.40" width="3.40" height="3.40" fill="#cc9a2a" stroke="#a87a1c" stroke-width="0.4"/>
<rect x="433.60" y="526.30" width="3.40" height="3.40" fill="#cc9a2a" stroke="#a87a1c" stroke-width="0.4"/>
<rect x="421.70" y="524.40" width="3.40" height="3.40" fill="#cc9a2a" stroke="#a87a1c" stroke-width="0.4"/>
<rect x="433.60" y="489.10" width="3.40" height="3.40" fill="#cc9a2a" stroke="#a87a1c" stroke-width="0.4"/>
<rect x="421.70" y="526.70" width="3.40" height="3.40" fill="#cc9a2a" stroke="#a87a1c" stroke-width="0.4"/>
<rect x="433.60" y="522.00" width="3.40" height="3.40" fill="#cc9a2a" stroke="#a87a1c" stroke-width="0.4"/>
<rect x="421.70" y="530.30" width="3.40" height="3.40" fill="#cc9a2a" stroke="#a87a1c" stroke-width="0.4"/>
<rect x="433.60" y="497.10" width="3.40" height="3.40" fill="#cc9a2a" stroke="#a87a1c" stroke-width="0.4"/>
<rect x="421.70" y="532.80" width="3.40" height="3.40" fill="#cc9a2a" stroke="#a87a1c" stroke-width="0.4"/>
<rect x="433.60" y="519.60" width="3.40" height="3.40" fill="#cc9a2a" stroke="#a87a1c" stroke-width="0.4"/>
<rect x="421.70" y="535.30" width="3.40" height="3.40" fill="#cc9a2a" stroke="#a87a1c" stroke-width="0.4"/>
<rect x="433.60" y="524.40" width="3.40" height="3.40" fill="#cc9a2a" stroke="#a87a1c" stroke-width="0.4"/>
<rect x="421.70" y="537.80" width="3.40" height="3.40" fill="#cc9a2a" stroke="#a87a1c" stroke-width="0.4"/>
<rect x="433.60" y="535.10" width="3.40" height="3.40" fill="#cc9a2a" stroke="#a87a1c" stroke-width="0.4"/>
<rect x="421.70" y="540.30" width="3.40" height="3.40" fill="#cc9a2a" stroke="#a87a1c" stroke-width="0.4"/>
<rect x="433.60" y="540.30" width="3.40" height="3.40" fill="#cc9a2a" stroke="#a87a1c" stroke-width="0.4"/>
<rect x="433.60" y="499.10" width="3.40" height="3.40" fill="#cc9a2a" stroke="#a87a1c" stroke-width="0.4"/>
<text x="426.00" y="552.00" font-size="6.4" text-anchor="end" fill="#2a2a2a" stroke="#2a2a2a" stroke-width="0.22" transform="rotate(-46 426.00 552.00)">before csCMVi</text>
<text x="437.90" y="552.00" font-size="6.4" text-anchor="end" fill="#2a2a2a" stroke="#2a2a2a" stroke-width="0.22" transform="rotate(-46 437.90 552.00)">after csCMVi</text>
<text x="0.00" y="0.00" font-size="7.0" text-anchor="middle" fill="#111" stroke="#111" stroke-width="0.34" transform="translate(392.20 510.10) rotate(-90) scale(0.87 1)"><tspan>CD56</tspan><tspan dy="-2.80" font-size="3.85">dim</tspan><tspan dy="2.80">CD159c</tspan><tspan dy="-2.80" font-size="3.85">++</tspan><tspan dy="2.80">/µL</tspan></text>
<line x1="481.70" y1="543.30" x2="481.70" y2="480.30" stroke="#222" stroke-width="1.1"/>
<line x1="481.20" y1="542.80" x2="513.00" y2="542.80" stroke="#222" stroke-width="1.1"/>
<line x1="479.10" y1="542.80" x2="481.70" y2="542.80" stroke="#222" stroke-width="0.9"/>
<text x="475.10" y="545.10" font-size="6.5" text-anchor="end" fill="#2a2a2a" stroke="#2a2a2a" stroke-width="0.22" font-weight="normal">0</text>
<line x1="479.10" y1="527.90" x2="481.70" y2="527.90" stroke="#222" stroke-width="0.9"/>
<text x="475.10" y="530.20" font-size="6.5" text-anchor="end" fill="#2a2a2a" stroke="#2a2a2a" stroke-width="0.22" font-weight="normal">30</text>
<line x1="479.10" y1="513.00" x2="481.70" y2="513.00" stroke="#222" stroke-width="0.9"/>
<text x="475.10" y="515.30" font-size="6.5" text-anchor="end" fill="#2a2a2a" stroke="#2a2a2a" stroke-width="0.22" font-weight="normal">60</text>
<line x1="479.10" y1="498.10" x2="481.70" y2="498.10" stroke="#222" stroke-width="0.9"/>
<text x="475.10" y="500.40" font-size="6.5" text-anchor="end" fill="#2a2a2a" stroke="#2a2a2a" stroke-width="0.22" font-weight="normal">90</text>
<line x1="479.10" y1="483.20" x2="481.70" y2="483.20" stroke="#222" stroke-width="0.9"/>
<text x="475.10" y="485.50" font-size="6.5" text-anchor="end" fill="#2a2a2a" stroke="#2a2a2a" stroke-width="0.22" font-weight="normal">120</text>
<line x1="491.40" y1="542.80" x2="491.40" y2="545.20" stroke="#222" stroke-width="0.9"/>
<line x1="503.10" y1="542.80" x2="503.10" y2="545.20" stroke="#222" stroke-width="0.9"/>
<line x1="491.40" y1="529.70" x2="503.10" y2="507.70" stroke="#c0cae4" stroke-width="0.7"/>
<line x1="491.40" y1="531.80" x2="503.10" y2="509.50" stroke="#c0cae4" stroke-width="0.7"/>
<line x1="491.40" y1="534.20" x2="503.10" y2="517.20" stroke="#c0cae4" stroke-width="0.7"/>
<line x1="491.40" y1="536.60" x2="503.10" y2="530.90" stroke="#c0cae4" stroke-width="0.7"/>
<line x1="491.40" y1="539.00" x2="503.10" y2="532.60" stroke="#c0cae4" stroke-width="0.7"/>
<line x1="491.40" y1="541.20" x2="503.10" y2="539.80" stroke="#c0cae4" stroke-width="0.7"/>
<line x1="491.40" y1="542.60" x2="503.10" y2="541.50" stroke="#c0cae4" stroke-width="0.7"/>
<rect x="489.70" y="528.00" width="3.40" height="3.40" fill="#cc9a2a" stroke="#a87a1c" stroke-width="0.4"/>
<rect x="501.40" y="506.00" width="3.40" height="3.40" fill="#cc9a2a" stroke="#a87a1c" stroke-width="0.4"/>
<rect x="489.70" y="530.10" width="3.40" height="3.40" fill="#cc9a2a" stroke="#a87a1c" stroke-width="0.4"/>
<rect x="501.40" y="507.80" width="3.40" height="3.40" fill="#cc9a2a" stroke="#a87a1c" stroke-width="0.4"/>
<rect x="489.70" y="532.50" width="3.40" height="3.40" fill="#cc9a2a" stroke="#a87a1c" stroke-width="0.4"/>
<rect x="501.40" y="515.50" width="3.40" height="3.40" fill="#cc9a2a" stroke="#a87a1c" stroke-width="0.4"/>
<rect x="489.70" y="534.90" width="3.40" height="3.40" fill="#cc9a2a" stroke="#a87a1c" stroke-width="0.4"/>
<rect x="501.40" y="529.20" width="3.40" height="3.40" fill="#cc9a2a" stroke="#a87a1c" stroke-width="0.4"/>
<rect x="489.70" y="537.30" width="3.40" height="3.40" fill="#cc9a2a" stroke="#a87a1c" stroke-width="0.4"/>
<rect x="501.40" y="530.90" width="3.40" height="3.40" fill="#cc9a2a" stroke="#a87a1c" stroke-width="0.4"/>
<rect x="489.70" y="539.50" width="3.40" height="3.40" fill="#cc9a2a" stroke="#a87a1c" stroke-width="0.4"/>
<rect x="501.40" y="538.10" width="3.40" height="3.40" fill="#cc9a2a" stroke="#a87a1c" stroke-width="0.4"/>
<rect x="489.70" y="540.90" width="3.40" height="3.40" fill="#cc9a2a" stroke="#a87a1c" stroke-width="0.4"/>
<rect x="501.40" y="539.80" width="3.40" height="3.40" fill="#cc9a2a" stroke="#a87a1c" stroke-width="0.4"/>
<text x="494.00" y="552.10" font-size="6.4" text-anchor="end" fill="#2a2a2a" stroke="#2a2a2a" stroke-width="0.22" transform="rotate(-46 494.00 552.10)">before csCMVi</text>
<text x="505.70" y="552.10" font-size="6.4" text-anchor="end" fill="#2a2a2a" stroke="#2a2a2a" stroke-width="0.22" transform="rotate(-46 505.70 552.10)">after csCMVi</text>
<text x="0.00" y="0.00" font-size="7.0" text-anchor="middle" fill="#111" stroke="#111" stroke-width="0.34" transform="translate(459.80 512.50) rotate(-90) scale(0.87 1)"><tspan>CD56</tspan><tspan dy="-2.80" font-size="3.85">dim</tspan><tspan dy="2.80">CD159c</tspan><tspan dy="-2.80" font-size="3.85">++</tspan><tspan dy="2.80">CD57</tspan><tspan dy="-2.80" font-size="3.85">+</tspan><tspan dy="2.80">/µL</tspan></text>
<circle cx="91.40" cy="567.20" r="1.8" fill="#27196e"/>
<text x="95.60" y="569.40" font-size="6.3" text-anchor="start" fill="#333" stroke="#333" stroke-width="0.22" font-weight="normal">controllers</text>
<rect x="130.60" y="565.50" width="3.40" height="3.40" fill="#cc9a2a" stroke="#a87a1c" stroke-width="0.4"/>
<text x="137.00" y="569.40" font-size="6.3" text-anchor="start" fill="#333" stroke="#333" stroke-width="0.22" font-weight="normal">csCMVi</text>
<rect x="0.5" y="0.5" width="519" height="588" fill="none" stroke="#5a5a5a" stroke-width="1"/>
</svg>
</body></html>
